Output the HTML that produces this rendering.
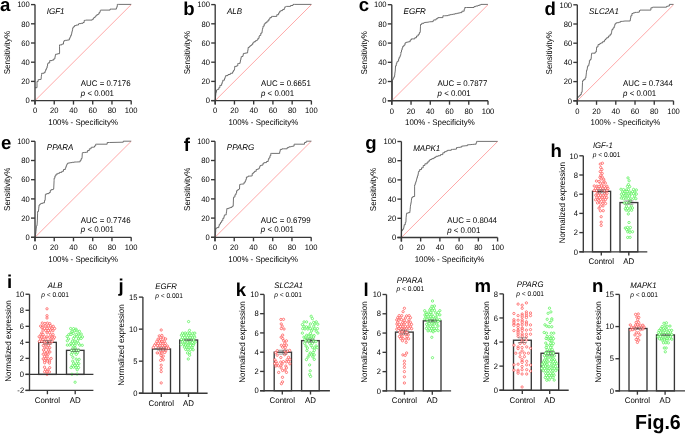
<!DOCTYPE html><html><head><meta charset="utf-8"><style>html,body{margin:0;padding:0;background:#fff;width:685px;height:434px;overflow:hidden}svg{display:block;will-change:transform}text{font-family:"Liberation Sans",sans-serif;text-rendering:geometricPrecision}</style></head><body>
<svg width="685" height="434" viewBox="0 0 685 434">
<rect width="685" height="434" fill="#fff"/>
<line x1="35.00" y1="100.60" x2="131.20" y2="4.60" stroke="#ff5050" stroke-width="0.5"/>
<polyline points="35.20,87.70 37.00,87.70 37.00,83.70 37.00,81.40 38.20,81.40 38.20,79.60 38.80,79.60 41.10,79.40 41.30,76.80 41.60,74.50 41.60,73.30 43.90,73.30 43.90,72.70 45.10,72.70 45.10,71.00 45.70,71.00 45.70,69.55 46.40,69.55 46.40,68.10 47.10,68.10 47.10,66.10 47.55,66.10 47.55,64.10 48.00,64.10 48.00,62.90 49.70,62.90 49.70,60.60 52.00,60.60 52.00,60.10 53.70,60.10 53.70,58.90 54.90,58.90 54.90,57.20 55.20,57.20 55.20,55.50 55.50,55.50 55.50,54.30 56.60,54.30 56.60,54.00 58.05,54.00 58.05,53.70 59.50,53.70 59.60,52.00 59.50,46.40 59.50,44.90 61.80,44.90 61.80,44.10 63.50,44.10 63.50,41.70 64.10,41.70 64.10,40.60 65.30,40.60 65.30,40.30 67.30,40.30 67.30,40.00 69.30,40.00 69.30,38.47 70.00,38.47 70.00,36.93 70.70,36.93 70.70,35.40 71.40,35.40 71.40,33.95 71.73,33.95 71.73,32.50 72.05,32.50 72.05,31.05 72.38,31.05 72.38,29.60 72.70,29.60 72.70,27.90 73.30,27.90 73.30,26.80 74.50,26.80 74.50,25.60 76.20,25.60 76.20,25.00 78.50,25.00 78.50,23.90 79.10,23.90 79.10,23.60 81.05,23.60 81.05,23.30 83.00,23.30 83.00,22.50 84.20,22.50 84.20,20.40 85.30,20.40 85.90,20.10 92.20,20.10 92.20,19.30 93.40,19.30 93.40,18.10 93.90,18.10 93.90,17.60 95.10,17.60 95.10,16.40 95.70,16.40 95.70,15.80 96.80,15.80 96.80,14.70 98.00,14.70 98.00,14.10 99.10,14.10 99.10,12.40 100.10,12.40 100.30,10.30 100.90,10.10 110.10,10.10 110.10,9.10 111.20,9.10 116.40,9.10 116.40,7.85 116.85,7.85 116.85,6.60 117.30,6.60 117.30,4.40 118.70,4.40 131.20,4.40" fill="none" stroke="#5a5a5a" stroke-width="0.85" stroke-linejoin="miter"/>
<line x1="35.00" y1="4.60" x2="35.00" y2="104.60" stroke="#383838" stroke-width="1.35"/>
<line x1="31.00" y1="100.60" x2="131.20" y2="100.60" stroke="#383838" stroke-width="1.35"/>
<line x1="31.00" y1="100.60" x2="35.00" y2="100.60" stroke="#383838" stroke-width="1.35"/>
<text font-size="7.92" text-anchor="end" fill="#000" transform="translate(29.80 103.30) scale(0.960 1)">0</text>
<line x1="35.00" y1="100.60" x2="35.00" y2="104.60" stroke="#383838" stroke-width="1.35"/>
<text font-size="7.92" text-anchor="middle" fill="#000" transform="translate(35.00 113.40) scale(0.960 1)">0</text>
<line x1="31.00" y1="81.40" x2="35.00" y2="81.40" stroke="#383838" stroke-width="1.35"/>
<text font-size="7.92" text-anchor="end" fill="#000" transform="translate(29.80 84.10) scale(0.960 1)">20</text>
<line x1="54.24" y1="100.60" x2="54.24" y2="104.60" stroke="#383838" stroke-width="1.35"/>
<text font-size="7.92" text-anchor="middle" fill="#000" transform="translate(54.24 113.40) scale(0.960 1)">20</text>
<line x1="31.00" y1="62.20" x2="35.00" y2="62.20" stroke="#383838" stroke-width="1.35"/>
<text font-size="7.92" text-anchor="end" fill="#000" transform="translate(29.80 64.90) scale(0.960 1)">40</text>
<line x1="73.48" y1="100.60" x2="73.48" y2="104.60" stroke="#383838" stroke-width="1.35"/>
<text font-size="7.92" text-anchor="middle" fill="#000" transform="translate(73.48 113.40) scale(0.960 1)">40</text>
<line x1="31.00" y1="43.00" x2="35.00" y2="43.00" stroke="#383838" stroke-width="1.35"/>
<text font-size="7.92" text-anchor="end" fill="#000" transform="translate(29.80 45.70) scale(0.960 1)">60</text>
<line x1="92.72" y1="100.60" x2="92.72" y2="104.60" stroke="#383838" stroke-width="1.35"/>
<text font-size="7.92" text-anchor="middle" fill="#000" transform="translate(92.72 113.40) scale(0.960 1)">60</text>
<line x1="31.00" y1="23.80" x2="35.00" y2="23.80" stroke="#383838" stroke-width="1.35"/>
<text font-size="7.92" text-anchor="end" fill="#000" transform="translate(29.80 26.50) scale(0.960 1)">80</text>
<line x1="111.96" y1="100.60" x2="111.96" y2="104.60" stroke="#383838" stroke-width="1.35"/>
<text font-size="7.92" text-anchor="middle" fill="#000" transform="translate(111.96 113.40) scale(0.960 1)">80</text>
<line x1="31.00" y1="4.60" x2="35.00" y2="4.60" stroke="#383838" stroke-width="1.35"/>
<text font-size="7.92" text-anchor="end" fill="#000" transform="translate(29.80 7.30) scale(0.960 1)">100</text>
<line x1="131.20" y1="100.60" x2="131.20" y2="104.60" stroke="#383838" stroke-width="1.35"/>
<text font-size="7.92" text-anchor="middle" fill="#000" transform="translate(131.20 113.40) scale(0.960 1)">100</text>
<text font-size="8.23" text-anchor="middle" fill="#000" transform="translate(83.10 125.10) scale(0.960 1)">100% - Specificity%</text>
<text font-size="8.39" text-anchor="middle" fill="#000" transform="translate(9.80 52.60) rotate(-90) scale(0.960 1)">Sensitivity%</text>
<text font-size="8.33" text-anchor="start" font-style="italic" fill="#000" transform="translate(46.80 13.50) scale(0.960 1)">IGF1</text>
<text font-size="8.23" text-anchor="start" fill="#000" transform="translate(80.80 86.20) scale(0.960 1)">AUC = 0.7176</text>
<text font-size="8.23" text-anchor="start" fill="#000" transform="translate(80.80 95.60) scale(0.960 1)"><tspan font-style="italic">p</tspan> &lt; 0.001</text>
<line x1="215.20" y1="100.60" x2="311.40" y2="4.60" stroke="#ff5050" stroke-width="0.5"/>
<polyline points="215.30,100.40 215.50,98.10 215.50,96.35 215.70,96.35 215.70,94.60 215.90,94.60 215.90,92.30 216.50,92.30 216.50,90.00 217.40,90.00 217.40,89.40 218.80,89.40 218.80,87.70 219.90,87.70 219.90,85.40 221.60,85.40 221.60,83.70 222.20,83.70 222.20,82.00 222.80,82.00 222.80,80.20 224.50,80.20 224.50,78.50 225.10,78.50 225.10,76.80 225.70,76.80 225.70,75.60 228.00,75.60 228.00,74.50 230.30,74.50 230.30,73.30 232.60,73.30 232.60,71.85 233.45,71.85 233.45,70.40 234.30,70.40 234.70,68.10 234.70,66.40 236.60,66.40 236.60,65.80 237.80,65.80 237.80,63.50 238.30,63.50 240.10,63.30 240.10,61.63 240.47,61.63 240.47,59.97 240.83,59.97 240.83,58.30 241.20,58.30 241.20,56.60 241.60,56.60 243.00,56.40 243.00,55.05 243.25,55.05 243.25,53.70 243.50,53.70 243.50,53.43 244.87,53.43 244.87,53.17 246.23,53.17 246.23,52.90 247.60,52.90 247.60,51.35 247.85,51.35 247.85,49.80 248.10,49.80 248.10,47.50 249.30,47.50 249.30,46.40 250.40,46.40 250.40,45.50 251.60,45.50 251.60,44.60 252.70,44.60 252.70,42.90 253.90,42.90 253.90,41.70 255.60,41.70 255.60,40.60 256.80,40.60 256.80,40.00 257.90,40.00 257.90,38.30 259.10,38.30 259.10,36.00 259.70,36.00 259.70,35.40 260.80,35.40 260.80,33.10 262.00,33.10 262.00,31.35 262.25,31.35 262.25,29.60 262.50,29.60 262.50,28.50 263.00,28.50 263.00,26.20 264.20,26.20 264.20,23.90 265.30,23.90 265.30,22.70 267.00,22.70 267.00,21.00 268.80,21.00 268.80,19.10 269.90,19.10 269.90,17.60 271.60,17.60 271.60,16.40 272.80,16.40 276.80,16.40 276.80,14.70 278.60,14.70 278.60,12.90 279.70,12.90 279.70,11.20 280.90,11.20 280.90,10.60 282.60,10.60 282.60,9.50 284.30,9.50 284.30,8.15 284.90,8.15 284.90,6.80 285.50,6.80 286.60,6.40 290.60,6.40 290.60,5.50 293.00,5.50 293.00,4.40 294.70,4.40 311.40,4.40" fill="none" stroke="#5a5a5a" stroke-width="0.85" stroke-linejoin="miter"/>
<line x1="215.20" y1="4.60" x2="215.20" y2="104.60" stroke="#383838" stroke-width="1.35"/>
<line x1="211.20" y1="100.60" x2="311.40" y2="100.60" stroke="#383838" stroke-width="1.35"/>
<line x1="211.20" y1="100.60" x2="215.20" y2="100.60" stroke="#383838" stroke-width="1.35"/>
<text font-size="7.92" text-anchor="end" fill="#000" transform="translate(210.00 103.30) scale(0.960 1)">0</text>
<line x1="215.20" y1="100.60" x2="215.20" y2="104.60" stroke="#383838" stroke-width="1.35"/>
<text font-size="7.92" text-anchor="middle" fill="#000" transform="translate(215.20 113.40) scale(0.960 1)">0</text>
<line x1="211.20" y1="81.40" x2="215.20" y2="81.40" stroke="#383838" stroke-width="1.35"/>
<text font-size="7.92" text-anchor="end" fill="#000" transform="translate(210.00 84.10) scale(0.960 1)">20</text>
<line x1="234.44" y1="100.60" x2="234.44" y2="104.60" stroke="#383838" stroke-width="1.35"/>
<text font-size="7.92" text-anchor="middle" fill="#000" transform="translate(234.44 113.40) scale(0.960 1)">20</text>
<line x1="211.20" y1="62.20" x2="215.20" y2="62.20" stroke="#383838" stroke-width="1.35"/>
<text font-size="7.92" text-anchor="end" fill="#000" transform="translate(210.00 64.90) scale(0.960 1)">40</text>
<line x1="253.68" y1="100.60" x2="253.68" y2="104.60" stroke="#383838" stroke-width="1.35"/>
<text font-size="7.92" text-anchor="middle" fill="#000" transform="translate(253.68 113.40) scale(0.960 1)">40</text>
<line x1="211.20" y1="43.00" x2="215.20" y2="43.00" stroke="#383838" stroke-width="1.35"/>
<text font-size="7.92" text-anchor="end" fill="#000" transform="translate(210.00 45.70) scale(0.960 1)">60</text>
<line x1="272.92" y1="100.60" x2="272.92" y2="104.60" stroke="#383838" stroke-width="1.35"/>
<text font-size="7.92" text-anchor="middle" fill="#000" transform="translate(272.92 113.40) scale(0.960 1)">60</text>
<line x1="211.20" y1="23.80" x2="215.20" y2="23.80" stroke="#383838" stroke-width="1.35"/>
<text font-size="7.92" text-anchor="end" fill="#000" transform="translate(210.00 26.50) scale(0.960 1)">80</text>
<line x1="292.16" y1="100.60" x2="292.16" y2="104.60" stroke="#383838" stroke-width="1.35"/>
<text font-size="7.92" text-anchor="middle" fill="#000" transform="translate(292.16 113.40) scale(0.960 1)">80</text>
<line x1="211.20" y1="4.60" x2="215.20" y2="4.60" stroke="#383838" stroke-width="1.35"/>
<text font-size="7.92" text-anchor="end" fill="#000" transform="translate(210.00 7.30) scale(0.960 1)">100</text>
<line x1="311.40" y1="100.60" x2="311.40" y2="104.60" stroke="#383838" stroke-width="1.35"/>
<text font-size="7.92" text-anchor="middle" fill="#000" transform="translate(311.40 113.40) scale(0.960 1)">100</text>
<text font-size="8.23" text-anchor="middle" fill="#000" transform="translate(263.30 125.10) scale(0.960 1)">100% - Specificity%</text>
<text font-size="8.39" text-anchor="middle" fill="#000" transform="translate(190.00 52.60) rotate(-90) scale(0.960 1)">Sensitivity%</text>
<text font-size="8.33" text-anchor="start" font-style="italic" fill="#000" transform="translate(227.00 13.50) scale(0.960 1)">ALB</text>
<text font-size="8.23" text-anchor="start" fill="#000" transform="translate(261.00 86.20) scale(0.960 1)">AUC = 0.6651</text>
<text font-size="8.23" text-anchor="start" fill="#000" transform="translate(261.00 95.60) scale(0.960 1)"><tspan font-style="italic">p</tspan> &lt; 0.001</text>
<line x1="391.80" y1="100.70" x2="488.00" y2="4.70" stroke="#ff5050" stroke-width="0.5"/>
<polyline points="392.30,100.40 392.30,99.80 392.50,80.20 392.50,79.60 393.20,79.60 393.20,78.20 393.90,78.20 393.90,76.80 394.60,76.80 394.60,75.07 394.80,75.07 394.80,73.33 395.00,73.33 395.00,71.60 395.20,71.60 395.50,67.00 395.50,65.80 396.30,65.80 396.30,63.50 396.90,63.50 396.90,61.80 397.50,61.80 397.50,61.20 398.60,61.20 398.60,58.90 399.20,58.90 399.20,57.20 400.10,57.20 400.10,55.50 400.60,55.50 400.90,53.70 400.90,52.00 401.50,52.00 401.50,50.05 402.10,50.05 402.10,48.10 402.70,48.10 402.70,46.40 403.80,46.40 403.80,45.20 405.00,45.20 405.00,42.90 406.10,42.90 406.10,42.30 407.30,42.30 407.30,42.00 408.75,42.00 408.75,41.70 410.20,41.70 410.20,40.00 411.30,40.00 411.30,38.90 413.00,38.90 414.80,38.90 414.80,37.70 416.50,37.70 416.50,36.00 418.20,36.00 418.20,34.30 419.40,34.30 419.40,32.50 420.20,32.50 420.50,26.20 420.50,24.50 421.70,24.50 421.70,23.30 424.00,23.30 424.00,22.50 424.60,22.50 428.00,22.20 429.70,21.80 433.20,21.60 433.20,20.40 433.80,20.40 433.80,19.90 436.10,19.90 436.10,18.70 437.80,18.70 437.80,17.60 440.00,17.60 442.90,17.60 442.90,15.80 444.60,15.80 448.10,15.60 448.10,15.15 449.80,15.15 449.80,14.70 451.50,14.70 451.50,14.40 453.25,14.40 453.25,14.10 455.00,14.10 455.00,13.70 456.70,13.70 456.70,13.30 458.40,13.30 458.40,12.95 460.15,12.95 460.15,12.60 461.90,12.60 461.90,11.20 464.20,11.20 464.20,9.10 464.80,9.10 464.80,7.50 466.50,7.50 474.00,7.50 474.00,6.60 475.70,6.60 475.70,6.00 478.00,6.00 478.00,5.45 479.45,5.45 479.45,4.90 480.90,4.90 480.90,4.40 482.00,4.40 487.90,4.40" fill="none" stroke="#5a5a5a" stroke-width="0.85" stroke-linejoin="miter"/>
<line x1="391.80" y1="4.70" x2="391.80" y2="104.70" stroke="#383838" stroke-width="1.35"/>
<line x1="387.80" y1="100.70" x2="488.00" y2="100.70" stroke="#383838" stroke-width="1.35"/>
<line x1="387.80" y1="100.70" x2="391.80" y2="100.70" stroke="#383838" stroke-width="1.35"/>
<text font-size="7.92" text-anchor="end" fill="#000" transform="translate(386.60 103.40) scale(0.960 1)">0</text>
<line x1="391.80" y1="100.70" x2="391.80" y2="104.70" stroke="#383838" stroke-width="1.35"/>
<text font-size="7.92" text-anchor="middle" fill="#000" transform="translate(391.80 113.50) scale(0.960 1)">0</text>
<line x1="387.80" y1="81.50" x2="391.80" y2="81.50" stroke="#383838" stroke-width="1.35"/>
<text font-size="7.92" text-anchor="end" fill="#000" transform="translate(386.60 84.20) scale(0.960 1)">20</text>
<line x1="411.04" y1="100.70" x2="411.04" y2="104.70" stroke="#383838" stroke-width="1.35"/>
<text font-size="7.92" text-anchor="middle" fill="#000" transform="translate(411.04 113.50) scale(0.960 1)">20</text>
<line x1="387.80" y1="62.30" x2="391.80" y2="62.30" stroke="#383838" stroke-width="1.35"/>
<text font-size="7.92" text-anchor="end" fill="#000" transform="translate(386.60 65.00) scale(0.960 1)">40</text>
<line x1="430.28" y1="100.70" x2="430.28" y2="104.70" stroke="#383838" stroke-width="1.35"/>
<text font-size="7.92" text-anchor="middle" fill="#000" transform="translate(430.28 113.50) scale(0.960 1)">40</text>
<line x1="387.80" y1="43.10" x2="391.80" y2="43.10" stroke="#383838" stroke-width="1.35"/>
<text font-size="7.92" text-anchor="end" fill="#000" transform="translate(386.60 45.80) scale(0.960 1)">60</text>
<line x1="449.52" y1="100.70" x2="449.52" y2="104.70" stroke="#383838" stroke-width="1.35"/>
<text font-size="7.92" text-anchor="middle" fill="#000" transform="translate(449.52 113.50) scale(0.960 1)">60</text>
<line x1="387.80" y1="23.90" x2="391.80" y2="23.90" stroke="#383838" stroke-width="1.35"/>
<text font-size="7.92" text-anchor="end" fill="#000" transform="translate(386.60 26.60) scale(0.960 1)">80</text>
<line x1="468.76" y1="100.70" x2="468.76" y2="104.70" stroke="#383838" stroke-width="1.35"/>
<text font-size="7.92" text-anchor="middle" fill="#000" transform="translate(468.76 113.50) scale(0.960 1)">80</text>
<line x1="387.80" y1="4.70" x2="391.80" y2="4.70" stroke="#383838" stroke-width="1.35"/>
<text font-size="7.92" text-anchor="end" fill="#000" transform="translate(386.60 7.40) scale(0.960 1)">100</text>
<line x1="488.00" y1="100.70" x2="488.00" y2="104.70" stroke="#383838" stroke-width="1.35"/>
<text font-size="7.92" text-anchor="middle" fill="#000" transform="translate(488.00 113.50) scale(0.960 1)">100</text>
<text font-size="8.23" text-anchor="middle" fill="#000" transform="translate(439.90 125.20) scale(0.960 1)">100% - Specificity%</text>
<text font-size="8.39" text-anchor="middle" fill="#000" transform="translate(366.60 52.70) rotate(-90) scale(0.960 1)">Sensitivity%</text>
<text font-size="8.33" text-anchor="start" font-style="italic" fill="#000" transform="translate(403.60 13.60) scale(0.960 1)">EGFR</text>
<text font-size="8.23" text-anchor="start" fill="#000" transform="translate(437.60 86.30) scale(0.960 1)">AUC = 0.7877</text>
<text font-size="8.23" text-anchor="start" fill="#000" transform="translate(437.60 95.70) scale(0.960 1)"><tspan font-style="italic">p</tspan> &lt; 0.001</text>
<line x1="577.30" y1="100.80" x2="673.50" y2="4.80" stroke="#ff5050" stroke-width="0.5"/>
<polyline points="577.30,100.40 577.30,98.10 577.90,98.10 577.90,96.90 579.00,96.90 579.00,95.80 580.20,95.80 580.20,94.60 581.30,94.60 581.30,92.30 582.10,92.30 582.50,82.50 582.50,80.80 583.60,80.80 583.60,79.60 585.10,79.60 585.10,77.90 585.90,77.90 585.90,76.17 586.10,76.17 586.10,74.43 586.30,74.43 586.30,72.70 586.50,72.70 586.50,70.40 587.10,70.40 587.10,68.70 587.40,68.70 587.40,67.00 587.70,67.00 587.70,65.80 588.80,65.80 588.80,64.35 589.10,64.35 589.10,62.90 589.40,62.90 589.40,60.60 590.20,60.60 590.20,59.50 591.10,59.50 591.10,58.05 591.25,58.05 591.25,56.60 591.40,56.60 591.40,55.15 591.55,55.15 591.55,53.70 591.70,53.70 591.70,53.20 592.30,53.20 595.20,53.20 595.20,52.00 596.30,52.00 596.30,50.05 596.50,50.05 596.50,48.10 596.70,48.10 596.70,46.90 598.00,46.90 598.00,44.60 599.80,44.60 599.80,43.50 600.90,43.50 600.90,42.90 602.60,42.90 602.60,41.70 604.40,41.70 604.40,40.00 605.50,40.00 605.50,38.90 606.70,38.90 606.70,37.70 608.40,37.70 608.40,36.00 610.10,36.00 610.10,34.30 611.30,34.30 611.30,32.85 611.60,32.85 611.60,31.40 611.90,31.40 611.90,29.60 613.00,29.60 613.00,27.90 614.20,27.90 614.20,26.20 614.75,26.20 614.75,24.50 615.30,24.50 615.30,23.30 616.50,23.30 616.50,22.70 618.80,22.70 618.80,22.20 620.50,22.20 620.50,21.40 622.20,21.40 625.00,21.00 630.20,21.00 630.20,19.55 630.50,19.55 630.50,18.10 630.80,18.10 630.80,15.80 631.90,15.80 631.90,13.50 633.10,13.50 633.10,12.90 634.80,12.90 634.80,12.40 636.50,12.40 639.40,12.10 639.40,10.60 640.00,10.60 640.00,10.10 641.10,10.10 650.90,10.10 650.90,7.80 652.60,7.80 652.60,7.20 653.80,7.20 666.50,7.20 666.50,6.40 667.60,6.40 667.60,6.00 669.40,6.00 669.40,4.40 669.90,4.40 673.50,4.40" fill="none" stroke="#5a5a5a" stroke-width="0.85" stroke-linejoin="miter"/>
<line x1="577.30" y1="4.80" x2="577.30" y2="104.80" stroke="#383838" stroke-width="1.35"/>
<line x1="573.30" y1="100.80" x2="673.50" y2="100.80" stroke="#383838" stroke-width="1.35"/>
<line x1="573.30" y1="100.80" x2="577.30" y2="100.80" stroke="#383838" stroke-width="1.35"/>
<text font-size="7.92" text-anchor="end" fill="#000" transform="translate(572.10 103.50) scale(0.960 1)">0</text>
<line x1="577.30" y1="100.80" x2="577.30" y2="104.80" stroke="#383838" stroke-width="1.35"/>
<text font-size="7.92" text-anchor="middle" fill="#000" transform="translate(577.30 113.60) scale(0.960 1)">0</text>
<line x1="573.30" y1="81.60" x2="577.30" y2="81.60" stroke="#383838" stroke-width="1.35"/>
<text font-size="7.92" text-anchor="end" fill="#000" transform="translate(572.10 84.30) scale(0.960 1)">20</text>
<line x1="596.54" y1="100.80" x2="596.54" y2="104.80" stroke="#383838" stroke-width="1.35"/>
<text font-size="7.92" text-anchor="middle" fill="#000" transform="translate(596.54 113.60) scale(0.960 1)">20</text>
<line x1="573.30" y1="62.40" x2="577.30" y2="62.40" stroke="#383838" stroke-width="1.35"/>
<text font-size="7.92" text-anchor="end" fill="#000" transform="translate(572.10 65.10) scale(0.960 1)">40</text>
<line x1="615.78" y1="100.80" x2="615.78" y2="104.80" stroke="#383838" stroke-width="1.35"/>
<text font-size="7.92" text-anchor="middle" fill="#000" transform="translate(615.78 113.60) scale(0.960 1)">40</text>
<line x1="573.30" y1="43.20" x2="577.30" y2="43.20" stroke="#383838" stroke-width="1.35"/>
<text font-size="7.92" text-anchor="end" fill="#000" transform="translate(572.10 45.90) scale(0.960 1)">60</text>
<line x1="635.02" y1="100.80" x2="635.02" y2="104.80" stroke="#383838" stroke-width="1.35"/>
<text font-size="7.92" text-anchor="middle" fill="#000" transform="translate(635.02 113.60) scale(0.960 1)">60</text>
<line x1="573.30" y1="24.00" x2="577.30" y2="24.00" stroke="#383838" stroke-width="1.35"/>
<text font-size="7.92" text-anchor="end" fill="#000" transform="translate(572.10 26.70) scale(0.960 1)">80</text>
<line x1="654.26" y1="100.80" x2="654.26" y2="104.80" stroke="#383838" stroke-width="1.35"/>
<text font-size="7.92" text-anchor="middle" fill="#000" transform="translate(654.26 113.60) scale(0.960 1)">80</text>
<line x1="573.30" y1="4.80" x2="577.30" y2="4.80" stroke="#383838" stroke-width="1.35"/>
<text font-size="7.92" text-anchor="end" fill="#000" transform="translate(572.10 7.50) scale(0.960 1)">100</text>
<line x1="673.50" y1="100.80" x2="673.50" y2="104.80" stroke="#383838" stroke-width="1.35"/>
<text font-size="7.92" text-anchor="middle" fill="#000" transform="translate(673.50 113.60) scale(0.960 1)">100</text>
<text font-size="8.23" text-anchor="middle" fill="#000" transform="translate(625.40 125.30) scale(0.960 1)">100% - Specificity%</text>
<text font-size="8.39" text-anchor="middle" fill="#000" transform="translate(552.10 52.80) rotate(-90) scale(0.960 1)">Sensitivity%</text>
<text font-size="8.33" text-anchor="start" font-style="italic" fill="#000" transform="translate(589.10 13.70) scale(0.960 1)">SLC2A1</text>
<text font-size="8.23" text-anchor="start" fill="#000" transform="translate(623.10 86.40) scale(0.960 1)">AUC = 0.7344</text>
<text font-size="8.23" text-anchor="start" fill="#000" transform="translate(623.10 95.80) scale(0.960 1)"><tspan font-style="italic">p</tspan> &lt; 0.001</text>
<line x1="35.00" y1="237.30" x2="131.20" y2="141.30" stroke="#ff5050" stroke-width="0.5"/>
<polyline points="35.30,237.20 35.30,235.73 35.50,235.73 35.50,234.27 35.70,234.27 35.70,232.80 35.90,232.80 35.90,231.20 36.05,231.20 36.05,229.60 36.20,229.60 36.20,228.00 36.35,228.00 36.35,226.40 36.50,226.40 36.50,225.90 37.00,225.90 37.40,220.10 37.60,213.20 37.60,211.50 38.50,211.50 38.50,209.97 38.67,209.97 38.67,208.43 38.83,208.43 38.83,206.90 39.00,206.90 39.00,205.10 39.90,205.10 39.90,204.00 41.10,204.00 41.10,203.40 42.80,203.40 42.80,202.80 44.50,202.80 44.50,200.50 45.10,200.50 45.40,194.80 45.40,194.20 46.80,194.20 46.80,193.60 49.10,193.60 49.10,192.50 50.30,192.50 50.30,190.40 51.20,190.40 51.20,189.60 53.20,189.60 53.20,189.00 53.70,189.00 54.10,180.50 54.10,178.20 54.90,178.20 54.90,175.90 56.00,175.90 56.00,174.10 57.80,174.10 57.80,173.30 59.50,173.30 59.50,172.40 61.80,172.40 61.80,171.30 63.50,171.30 63.50,169.50 65.30,169.50 65.30,168.05 65.85,168.05 65.85,166.60 66.40,166.60 66.40,165.20 67.00,165.20 67.00,163.80 67.60,163.80 67.60,163.20 68.70,163.20 68.70,162.90 70.45,162.90 70.45,162.60 72.20,162.60 72.20,162.30 74.20,162.30 74.20,162.00 76.20,162.00 80.20,161.80 80.20,160.30 81.20,160.30 81.20,158.60 82.00,158.60 82.30,153.40 82.30,152.80 83.00,152.80 83.00,152.60 84.53,152.60 84.53,152.40 86.07,152.40 86.07,152.20 87.60,152.20 87.60,150.50 89.30,150.50 89.30,148.80 91.10,148.80 91.10,147.30 91.60,147.30 94.50,147.10 94.50,145.90 95.70,145.90 95.70,144.20 96.60,144.20 107.20,144.20 107.20,142.50 109.50,142.50 123.30,142.20 123.30,141.20 123.90,141.20 131.20,141.20" fill="none" stroke="#5a5a5a" stroke-width="0.85" stroke-linejoin="miter"/>
<line x1="35.00" y1="141.30" x2="35.00" y2="241.30" stroke="#383838" stroke-width="1.35"/>
<line x1="31.00" y1="237.30" x2="131.20" y2="237.30" stroke="#383838" stroke-width="1.35"/>
<line x1="31.00" y1="237.30" x2="35.00" y2="237.30" stroke="#383838" stroke-width="1.35"/>
<text font-size="7.92" text-anchor="end" fill="#000" transform="translate(29.80 240.00) scale(0.960 1)">0</text>
<line x1="35.00" y1="237.30" x2="35.00" y2="241.30" stroke="#383838" stroke-width="1.35"/>
<text font-size="7.92" text-anchor="middle" fill="#000" transform="translate(35.00 250.10) scale(0.960 1)">0</text>
<line x1="31.00" y1="218.10" x2="35.00" y2="218.10" stroke="#383838" stroke-width="1.35"/>
<text font-size="7.92" text-anchor="end" fill="#000" transform="translate(29.80 220.80) scale(0.960 1)">20</text>
<line x1="54.24" y1="237.30" x2="54.24" y2="241.30" stroke="#383838" stroke-width="1.35"/>
<text font-size="7.92" text-anchor="middle" fill="#000" transform="translate(54.24 250.10) scale(0.960 1)">20</text>
<line x1="31.00" y1="198.90" x2="35.00" y2="198.90" stroke="#383838" stroke-width="1.35"/>
<text font-size="7.92" text-anchor="end" fill="#000" transform="translate(29.80 201.60) scale(0.960 1)">40</text>
<line x1="73.48" y1="237.30" x2="73.48" y2="241.30" stroke="#383838" stroke-width="1.35"/>
<text font-size="7.92" text-anchor="middle" fill="#000" transform="translate(73.48 250.10) scale(0.960 1)">40</text>
<line x1="31.00" y1="179.70" x2="35.00" y2="179.70" stroke="#383838" stroke-width="1.35"/>
<text font-size="7.92" text-anchor="end" fill="#000" transform="translate(29.80 182.40) scale(0.960 1)">60</text>
<line x1="92.72" y1="237.30" x2="92.72" y2="241.30" stroke="#383838" stroke-width="1.35"/>
<text font-size="7.92" text-anchor="middle" fill="#000" transform="translate(92.72 250.10) scale(0.960 1)">60</text>
<line x1="31.00" y1="160.50" x2="35.00" y2="160.50" stroke="#383838" stroke-width="1.35"/>
<text font-size="7.92" text-anchor="end" fill="#000" transform="translate(29.80 163.20) scale(0.960 1)">80</text>
<line x1="111.96" y1="237.30" x2="111.96" y2="241.30" stroke="#383838" stroke-width="1.35"/>
<text font-size="7.92" text-anchor="middle" fill="#000" transform="translate(111.96 250.10) scale(0.960 1)">80</text>
<line x1="31.00" y1="141.30" x2="35.00" y2="141.30" stroke="#383838" stroke-width="1.35"/>
<text font-size="7.92" text-anchor="end" fill="#000" transform="translate(29.80 144.00) scale(0.960 1)">100</text>
<line x1="131.20" y1="237.30" x2="131.20" y2="241.30" stroke="#383838" stroke-width="1.35"/>
<text font-size="7.92" text-anchor="middle" fill="#000" transform="translate(131.20 250.10) scale(0.960 1)">100</text>
<text font-size="8.23" text-anchor="middle" fill="#000" transform="translate(83.10 261.80) scale(0.960 1)">100% - Specificity%</text>
<text font-size="8.39" text-anchor="middle" fill="#000" transform="translate(9.80 189.30) rotate(-90) scale(0.960 1)">Sensitivity%</text>
<text font-size="8.33" text-anchor="start" font-style="italic" fill="#000" transform="translate(46.80 150.20) scale(0.960 1)">PPARA</text>
<text font-size="8.23" text-anchor="start" fill="#000" transform="translate(80.80 222.90) scale(0.960 1)">AUC = 0.7746</text>
<text font-size="8.23" text-anchor="start" fill="#000" transform="translate(80.80 232.30) scale(0.960 1)"><tspan font-style="italic">p</tspan> &lt; 0.001</text>
<line x1="215.00" y1="237.30" x2="311.20" y2="141.30" stroke="#ff5050" stroke-width="0.5"/>
<polyline points="215.30,237.20 215.30,235.50 215.42,235.50 215.42,233.80 215.54,233.80 215.54,232.10 215.66,232.10 215.66,230.40 215.78,230.40 215.78,228.70 215.90,228.70 215.90,228.20 217.00,228.20 217.00,227.60 218.80,227.60 218.80,225.90 219.30,225.90 219.30,224.10 220.50,224.10 220.50,222.40 221.60,222.40 221.60,220.70 222.80,220.70 222.80,218.40 223.90,218.40 223.90,216.95 224.20,216.95 224.20,215.50 224.50,215.50 224.50,214.90 226.20,214.90 226.20,213.37 226.40,213.37 226.40,211.83 226.60,211.83 226.60,210.30 226.80,210.30 226.80,208.60 228.60,208.60 228.60,208.00 230.30,208.00 230.30,207.40 232.00,207.40 232.00,206.30 233.20,206.30 233.50,197.60 233.50,197.10 234.90,197.10 234.90,194.80 236.00,194.80 236.00,193.00 236.60,193.00 236.60,190.70 237.80,190.70 237.80,189.60 238.90,189.60 238.90,189.00 239.50,189.00 239.70,184.50 241.20,184.20 244.10,183.90 244.10,182.20 245.30,182.20 245.30,180.75 245.85,180.75 245.85,179.30 246.40,179.30 246.40,177.00 248.10,177.00 248.10,176.10 249.90,176.10 252.20,175.90 252.20,173.60 253.30,173.60 253.30,172.40 254.50,172.40 254.50,171.30 256.20,171.30 256.20,169.50 257.40,169.50 257.40,169.00 259.10,169.00 259.10,167.80 259.65,167.80 259.65,166.60 260.20,166.60 260.20,165.50 261.40,165.50 261.40,165.10 263.00,165.10 263.00,163.20 264.20,163.20 264.20,162.60 266.50,162.60 266.50,161.50 268.20,161.50 268.20,159.70 268.80,159.70 268.80,158.00 269.90,158.00 269.90,155.70 270.80,155.70 270.80,153.40 271.30,153.40 279.70,153.40 279.70,151.95 280.00,151.95 280.00,150.50 280.30,150.50 280.30,149.40 282.00,149.40 282.00,148.80 283.70,148.80 287.20,148.80 287.20,147.60 288.90,147.60 288.90,146.80 291.20,146.80 291.20,146.45 292.65,146.45 292.65,146.10 294.10,146.10 294.10,144.20 294.70,144.20 304.50,144.20 304.50,142.50 306.20,142.50 306.20,141.20 306.80,141.20 311.40,141.20" fill="none" stroke="#5a5a5a" stroke-width="0.85" stroke-linejoin="miter"/>
<line x1="215.00" y1="141.30" x2="215.00" y2="241.30" stroke="#383838" stroke-width="1.35"/>
<line x1="211.00" y1="237.30" x2="311.20" y2="237.30" stroke="#383838" stroke-width="1.35"/>
<line x1="211.00" y1="237.30" x2="215.00" y2="237.30" stroke="#383838" stroke-width="1.35"/>
<text font-size="7.92" text-anchor="end" fill="#000" transform="translate(209.80 240.00) scale(0.960 1)">0</text>
<line x1="215.00" y1="237.30" x2="215.00" y2="241.30" stroke="#383838" stroke-width="1.35"/>
<text font-size="7.92" text-anchor="middle" fill="#000" transform="translate(215.00 250.10) scale(0.960 1)">0</text>
<line x1="211.00" y1="218.10" x2="215.00" y2="218.10" stroke="#383838" stroke-width="1.35"/>
<text font-size="7.92" text-anchor="end" fill="#000" transform="translate(209.80 220.80) scale(0.960 1)">20</text>
<line x1="234.24" y1="237.30" x2="234.24" y2="241.30" stroke="#383838" stroke-width="1.35"/>
<text font-size="7.92" text-anchor="middle" fill="#000" transform="translate(234.24 250.10) scale(0.960 1)">20</text>
<line x1="211.00" y1="198.90" x2="215.00" y2="198.90" stroke="#383838" stroke-width="1.35"/>
<text font-size="7.92" text-anchor="end" fill="#000" transform="translate(209.80 201.60) scale(0.960 1)">40</text>
<line x1="253.48" y1="237.30" x2="253.48" y2="241.30" stroke="#383838" stroke-width="1.35"/>
<text font-size="7.92" text-anchor="middle" fill="#000" transform="translate(253.48 250.10) scale(0.960 1)">40</text>
<line x1="211.00" y1="179.70" x2="215.00" y2="179.70" stroke="#383838" stroke-width="1.35"/>
<text font-size="7.92" text-anchor="end" fill="#000" transform="translate(209.80 182.40) scale(0.960 1)">60</text>
<line x1="272.72" y1="237.30" x2="272.72" y2="241.30" stroke="#383838" stroke-width="1.35"/>
<text font-size="7.92" text-anchor="middle" fill="#000" transform="translate(272.72 250.10) scale(0.960 1)">60</text>
<line x1="211.00" y1="160.50" x2="215.00" y2="160.50" stroke="#383838" stroke-width="1.35"/>
<text font-size="7.92" text-anchor="end" fill="#000" transform="translate(209.80 163.20) scale(0.960 1)">80</text>
<line x1="291.96" y1="237.30" x2="291.96" y2="241.30" stroke="#383838" stroke-width="1.35"/>
<text font-size="7.92" text-anchor="middle" fill="#000" transform="translate(291.96 250.10) scale(0.960 1)">80</text>
<line x1="211.00" y1="141.30" x2="215.00" y2="141.30" stroke="#383838" stroke-width="1.35"/>
<text font-size="7.92" text-anchor="end" fill="#000" transform="translate(209.80 144.00) scale(0.960 1)">100</text>
<line x1="311.20" y1="237.30" x2="311.20" y2="241.30" stroke="#383838" stroke-width="1.35"/>
<text font-size="7.92" text-anchor="middle" fill="#000" transform="translate(311.20 250.10) scale(0.960 1)">100</text>
<text font-size="8.23" text-anchor="middle" fill="#000" transform="translate(263.10 261.80) scale(0.960 1)">100% - Specificity%</text>
<text font-size="8.39" text-anchor="middle" fill="#000" transform="translate(189.80 189.30) rotate(-90) scale(0.960 1)">Sensitivity%</text>
<text font-size="8.33" text-anchor="start" font-style="italic" fill="#000" transform="translate(226.80 150.20) scale(0.960 1)">PPARG</text>
<text font-size="8.23" text-anchor="start" fill="#000" transform="translate(260.80 222.90) scale(0.960 1)">AUC = 0.6799</text>
<text font-size="8.23" text-anchor="start" fill="#000" transform="translate(260.80 232.30) scale(0.960 1)"><tspan font-style="italic">p</tspan> &lt; 0.001</text>
<line x1="401.40" y1="237.50" x2="497.60" y2="141.50" stroke="#ff5050" stroke-width="0.5"/>
<polyline points="401.30,237.30 401.50,231.60 401.50,230.70 402.50,230.70 402.50,229.30 403.60,229.30 403.60,227.85 403.90,227.85 403.90,226.40 404.20,226.40 404.20,224.70 405.30,224.70 405.30,222.40 405.90,222.40 406.10,217.80 406.50,213.80 406.50,213.20 408.20,213.20 408.20,212.60 409.90,212.60 409.90,211.03 410.05,211.03 410.05,209.45 410.20,209.45 410.20,207.88 410.35,207.88 410.35,206.30 410.50,206.30 410.50,204.85 410.80,204.85 410.80,203.40 411.10,203.40 411.10,201.87 411.30,201.87 411.30,200.33 411.50,200.33 411.50,198.80 411.70,198.80 411.70,197.60 412.80,197.60 412.80,196.50 414.60,196.50 414.60,189.00 414.60,186.80 414.60,185.10 415.15,185.10 415.15,183.40 415.70,183.40 415.70,182.03 416.10,182.03 416.10,180.67 416.50,180.67 416.50,179.30 416.90,179.30 416.90,177.60 417.45,177.60 417.45,175.90 418.00,175.90 418.00,174.15 418.30,174.15 418.30,172.40 418.60,172.40 418.60,171.30 419.70,171.30 419.70,169.50 421.50,169.50 421.50,167.80 423.20,167.80 423.20,165.50 424.90,165.50 424.90,163.80 427.20,163.80 427.20,162.00 429.00,162.00 429.00,160.30 430.10,160.30 430.10,159.50 431.80,159.50 431.80,158.60 434.10,158.60 434.10,157.40 435.90,157.40 435.90,156.30 438.20,156.30 438.20,155.70 440.50,155.70 440.50,154.60 442.80,154.60 442.80,152.80 444.50,152.80 444.50,151.70 446.20,151.70 446.20,151.00 447.60,151.00 447.60,150.30 449.00,150.30 451.30,150.30 451.30,149.40 452.50,149.40 456.50,149.10 456.50,147.60 458.20,147.60 458.20,147.35 459.95,147.35 459.95,147.10 461.70,147.10 461.70,146.10 463.40,146.10 463.40,145.90 465.40,145.90 465.40,145.70 467.40,145.70 467.40,144.80 469.20,144.80 469.20,144.65 470.93,144.65 470.93,144.50 472.65,144.50 472.65,144.35 474.38,144.35 474.38,144.20 476.10,144.20 476.10,142.80 476.65,142.80 476.65,141.40 477.20,141.40 497.60,141.40" fill="none" stroke="#5a5a5a" stroke-width="0.85" stroke-linejoin="miter"/>
<line x1="401.40" y1="141.50" x2="401.40" y2="241.50" stroke="#383838" stroke-width="1.35"/>
<line x1="397.40" y1="237.50" x2="497.60" y2="237.50" stroke="#383838" stroke-width="1.35"/>
<line x1="397.40" y1="237.50" x2="401.40" y2="237.50" stroke="#383838" stroke-width="1.35"/>
<text font-size="7.92" text-anchor="end" fill="#000" transform="translate(396.20 240.20) scale(0.960 1)">0</text>
<line x1="401.40" y1="237.50" x2="401.40" y2="241.50" stroke="#383838" stroke-width="1.35"/>
<text font-size="7.92" text-anchor="middle" fill="#000" transform="translate(401.40 250.30) scale(0.960 1)">0</text>
<line x1="397.40" y1="218.30" x2="401.40" y2="218.30" stroke="#383838" stroke-width="1.35"/>
<text font-size="7.92" text-anchor="end" fill="#000" transform="translate(396.20 221.00) scale(0.960 1)">20</text>
<line x1="420.64" y1="237.50" x2="420.64" y2="241.50" stroke="#383838" stroke-width="1.35"/>
<text font-size="7.92" text-anchor="middle" fill="#000" transform="translate(420.64 250.30) scale(0.960 1)">20</text>
<line x1="397.40" y1="199.10" x2="401.40" y2="199.10" stroke="#383838" stroke-width="1.35"/>
<text font-size="7.92" text-anchor="end" fill="#000" transform="translate(396.20 201.80) scale(0.960 1)">40</text>
<line x1="439.88" y1="237.50" x2="439.88" y2="241.50" stroke="#383838" stroke-width="1.35"/>
<text font-size="7.92" text-anchor="middle" fill="#000" transform="translate(439.88 250.30) scale(0.960 1)">40</text>
<line x1="397.40" y1="179.90" x2="401.40" y2="179.90" stroke="#383838" stroke-width="1.35"/>
<text font-size="7.92" text-anchor="end" fill="#000" transform="translate(396.20 182.60) scale(0.960 1)">60</text>
<line x1="459.12" y1="237.50" x2="459.12" y2="241.50" stroke="#383838" stroke-width="1.35"/>
<text font-size="7.92" text-anchor="middle" fill="#000" transform="translate(459.12 250.30) scale(0.960 1)">60</text>
<line x1="397.40" y1="160.70" x2="401.40" y2="160.70" stroke="#383838" stroke-width="1.35"/>
<text font-size="7.92" text-anchor="end" fill="#000" transform="translate(396.20 163.40) scale(0.960 1)">80</text>
<line x1="478.36" y1="237.50" x2="478.36" y2="241.50" stroke="#383838" stroke-width="1.35"/>
<text font-size="7.92" text-anchor="middle" fill="#000" transform="translate(478.36 250.30) scale(0.960 1)">80</text>
<line x1="397.40" y1="141.50" x2="401.40" y2="141.50" stroke="#383838" stroke-width="1.35"/>
<text font-size="7.92" text-anchor="end" fill="#000" transform="translate(396.20 144.20) scale(0.960 1)">100</text>
<line x1="497.60" y1="237.50" x2="497.60" y2="241.50" stroke="#383838" stroke-width="1.35"/>
<text font-size="7.92" text-anchor="middle" fill="#000" transform="translate(497.60 250.30) scale(0.960 1)">100</text>
<text font-size="8.23" text-anchor="middle" fill="#000" transform="translate(449.50 262.00) scale(0.960 1)">100% - Specificity%</text>
<text font-size="8.39" text-anchor="middle" fill="#000" transform="translate(376.20 189.50) rotate(-90) scale(0.960 1)">Sensitivity%</text>
<text font-size="8.33" text-anchor="start" font-style="italic" fill="#000" transform="translate(413.20 151.30) scale(0.960 1)">MAPK1</text>
<text font-size="8.23" text-anchor="start" fill="#000" transform="translate(447.20 223.10) scale(0.960 1)">AUC = 0.8044</text>
<text font-size="8.23" text-anchor="start" fill="#000" transform="translate(447.20 232.50) scale(0.960 1)"><tspan font-style="italic">p</tspan> &lt; 0.001</text>
<rect x="592.50" y="191.32" width="18.10" height="60.48" fill="none" stroke="#383838" stroke-width="1.35"/>
<rect x="620.00" y="202.55" width="17.80" height="49.25" fill="none" stroke="#383838" stroke-width="1.35"/>
<circle cx="599.96" cy="177.31" r="1.15" fill="#fff" stroke="#ff4040" stroke-width="0.65"/>
<circle cx="602.25" cy="177.06" r="1.15" fill="#fff" stroke="#ff4040" stroke-width="0.65"/>
<circle cx="601.17" cy="178.98" r="1.15" fill="#fff" stroke="#ff4040" stroke-width="0.65"/>
<circle cx="603.70" cy="179.25" r="1.15" fill="#fff" stroke="#ff4040" stroke-width="0.65"/>
<circle cx="596.45" cy="181.06" r="1.15" fill="#fff" stroke="#ff4040" stroke-width="0.65"/>
<circle cx="599.09" cy="181.46" r="1.15" fill="#fff" stroke="#ff4040" stroke-width="0.65"/>
<circle cx="603.97" cy="181.13" r="1.15" fill="#fff" stroke="#ff4040" stroke-width="0.65"/>
<circle cx="600.33" cy="183.24" r="1.15" fill="#fff" stroke="#ff4040" stroke-width="0.65"/>
<circle cx="602.83" cy="183.25" r="1.15" fill="#fff" stroke="#ff4040" stroke-width="0.65"/>
<circle cx="605.34" cy="183.08" r="1.15" fill="#fff" stroke="#ff4040" stroke-width="0.65"/>
<circle cx="594.23" cy="185.93" r="1.15" fill="#fff" stroke="#ff4040" stroke-width="0.65"/>
<circle cx="596.95" cy="186.15" r="1.15" fill="#fff" stroke="#ff4040" stroke-width="0.65"/>
<circle cx="599.06" cy="186.49" r="1.15" fill="#fff" stroke="#ff4040" stroke-width="0.65"/>
<circle cx="601.52" cy="185.97" r="1.15" fill="#fff" stroke="#ff4040" stroke-width="0.65"/>
<circle cx="604.38" cy="186.45" r="1.15" fill="#fff" stroke="#ff4040" stroke-width="0.65"/>
<circle cx="606.95" cy="186.24" r="1.15" fill="#fff" stroke="#ff4040" stroke-width="0.65"/>
<circle cx="595.55" cy="188.61" r="1.15" fill="#fff" stroke="#ff4040" stroke-width="0.65"/>
<circle cx="598.00" cy="188.37" r="1.15" fill="#fff" stroke="#ff4040" stroke-width="0.65"/>
<circle cx="600.35" cy="188.54" r="1.15" fill="#fff" stroke="#ff4040" stroke-width="0.65"/>
<circle cx="602.80" cy="188.34" r="1.15" fill="#fff" stroke="#ff4040" stroke-width="0.65"/>
<circle cx="605.60" cy="188.20" r="1.15" fill="#fff" stroke="#ff4040" stroke-width="0.65"/>
<circle cx="608.01" cy="188.52" r="1.15" fill="#fff" stroke="#ff4040" stroke-width="0.65"/>
<circle cx="594.19" cy="190.49" r="1.15" fill="#fff" stroke="#ff4040" stroke-width="0.65"/>
<circle cx="596.48" cy="190.66" r="1.15" fill="#fff" stroke="#ff4040" stroke-width="0.65"/>
<circle cx="601.69" cy="190.24" r="1.15" fill="#fff" stroke="#ff4040" stroke-width="0.65"/>
<circle cx="604.54" cy="190.72" r="1.15" fill="#fff" stroke="#ff4040" stroke-width="0.65"/>
<circle cx="606.97" cy="190.29" r="1.15" fill="#fff" stroke="#ff4040" stroke-width="0.65"/>
<circle cx="597.27" cy="193.16" r="1.15" fill="#fff" stroke="#ff4040" stroke-width="0.65"/>
<circle cx="599.36" cy="193.14" r="1.15" fill="#fff" stroke="#ff4040" stroke-width="0.65"/>
<circle cx="604.67" cy="193.36" r="1.15" fill="#fff" stroke="#ff4040" stroke-width="0.65"/>
<circle cx="607.14" cy="193.35" r="1.15" fill="#fff" stroke="#ff4040" stroke-width="0.65"/>
<circle cx="595.79" cy="195.24" r="1.15" fill="#fff" stroke="#ff4040" stroke-width="0.65"/>
<circle cx="598.47" cy="195.36" r="1.15" fill="#fff" stroke="#ff4040" stroke-width="0.65"/>
<circle cx="600.75" cy="195.29" r="1.15" fill="#fff" stroke="#ff4040" stroke-width="0.65"/>
<circle cx="603.16" cy="195.33" r="1.15" fill="#fff" stroke="#ff4040" stroke-width="0.65"/>
<circle cx="605.82" cy="195.27" r="1.15" fill="#fff" stroke="#ff4040" stroke-width="0.65"/>
<circle cx="596.84" cy="197.24" r="1.15" fill="#fff" stroke="#ff4040" stroke-width="0.65"/>
<circle cx="599.72" cy="197.74" r="1.15" fill="#fff" stroke="#ff4040" stroke-width="0.65"/>
<circle cx="602.19" cy="197.30" r="1.15" fill="#fff" stroke="#ff4040" stroke-width="0.65"/>
<circle cx="604.60" cy="197.17" r="1.15" fill="#fff" stroke="#ff4040" stroke-width="0.65"/>
<circle cx="606.71" cy="197.70" r="1.15" fill="#fff" stroke="#ff4040" stroke-width="0.65"/>
<circle cx="595.52" cy="199.80" r="1.15" fill="#fff" stroke="#ff4040" stroke-width="0.65"/>
<circle cx="597.99" cy="199.43" r="1.15" fill="#fff" stroke="#ff4040" stroke-width="0.65"/>
<circle cx="600.55" cy="199.52" r="1.15" fill="#fff" stroke="#ff4040" stroke-width="0.65"/>
<circle cx="603.22" cy="199.56" r="1.15" fill="#fff" stroke="#ff4040" stroke-width="0.65"/>
<circle cx="605.46" cy="199.61" r="1.15" fill="#fff" stroke="#ff4040" stroke-width="0.65"/>
<circle cx="598.81" cy="200.79" r="1.15" fill="#fff" stroke="#ff4040" stroke-width="0.65"/>
<circle cx="603.83" cy="201.18" r="1.15" fill="#fff" stroke="#ff4040" stroke-width="0.65"/>
<circle cx="597.46" cy="202.91" r="1.15" fill="#fff" stroke="#ff4040" stroke-width="0.65"/>
<circle cx="600.38" cy="203.03" r="1.15" fill="#fff" stroke="#ff4040" stroke-width="0.65"/>
<circle cx="602.86" cy="203.34" r="1.15" fill="#fff" stroke="#ff4040" stroke-width="0.65"/>
<circle cx="605.54" cy="203.54" r="1.15" fill="#fff" stroke="#ff4040" stroke-width="0.65"/>
<circle cx="600.33" cy="206.22" r="1.15" fill="#fff" stroke="#ff4040" stroke-width="0.65"/>
<circle cx="603.05" cy="205.96" r="1.15" fill="#fff" stroke="#ff4040" stroke-width="0.65"/>
<circle cx="598.99" cy="208.14" r="1.15" fill="#fff" stroke="#ff4040" stroke-width="0.65"/>
<circle cx="600.38" cy="210.79" r="1.15" fill="#fff" stroke="#ff4040" stroke-width="0.65"/>
<circle cx="603.26" cy="210.70" r="1.15" fill="#fff" stroke="#ff4040" stroke-width="0.65"/>
<circle cx="600.30" cy="164.10" r="1.15" fill="#fff" stroke="#ff4040" stroke-width="0.65"/>
<circle cx="602.40" cy="163.20" r="1.15" fill="#fff" stroke="#ff4040" stroke-width="0.65"/>
<circle cx="600.70" cy="167.50" r="1.15" fill="#fff" stroke="#ff4040" stroke-width="0.65"/>
<circle cx="601.90" cy="169.50" r="1.15" fill="#fff" stroke="#ff4040" stroke-width="0.65"/>
<circle cx="600.20" cy="171.60" r="1.15" fill="#fff" stroke="#ff4040" stroke-width="0.65"/>
<circle cx="602.20" cy="173.40" r="1.15" fill="#fff" stroke="#ff4040" stroke-width="0.65"/>
<circle cx="600.80" cy="175.20" r="1.15" fill="#fff" stroke="#ff4040" stroke-width="0.65"/>
<circle cx="601.20" cy="216.70" r="1.15" fill="#fff" stroke="#ff4040" stroke-width="0.65"/>
<circle cx="601.20" cy="222.20" r="1.15" fill="#fff" stroke="#ff4040" stroke-width="0.65"/>
<circle cx="601.20" cy="225.40" r="1.15" fill="#fff" stroke="#ff4040" stroke-width="0.65"/>
<circle cx="628.00" cy="177.91" r="1.15" fill="#fff" stroke="#40f040" stroke-width="0.65"/>
<circle cx="629.12" cy="180.76" r="1.15" fill="#fff" stroke="#40f040" stroke-width="0.65"/>
<circle cx="628.45" cy="184.59" r="1.15" fill="#fff" stroke="#40f040" stroke-width="0.65"/>
<circle cx="627.41" cy="186.40" r="1.15" fill="#fff" stroke="#40f040" stroke-width="0.65"/>
<circle cx="629.72" cy="186.64" r="1.15" fill="#fff" stroke="#40f040" stroke-width="0.65"/>
<circle cx="620.97" cy="189.28" r="1.15" fill="#fff" stroke="#40f040" stroke-width="0.65"/>
<circle cx="623.53" cy="189.60" r="1.15" fill="#fff" stroke="#40f040" stroke-width="0.65"/>
<circle cx="626.37" cy="189.92" r="1.15" fill="#fff" stroke="#40f040" stroke-width="0.65"/>
<circle cx="628.47" cy="189.46" r="1.15" fill="#fff" stroke="#40f040" stroke-width="0.65"/>
<circle cx="633.55" cy="189.37" r="1.15" fill="#fff" stroke="#40f040" stroke-width="0.65"/>
<circle cx="636.35" cy="189.95" r="1.15" fill="#fff" stroke="#40f040" stroke-width="0.65"/>
<circle cx="622.63" cy="191.95" r="1.15" fill="#fff" stroke="#40f040" stroke-width="0.65"/>
<circle cx="625.19" cy="191.59" r="1.15" fill="#fff" stroke="#40f040" stroke-width="0.65"/>
<circle cx="627.15" cy="191.54" r="1.15" fill="#fff" stroke="#40f040" stroke-width="0.65"/>
<circle cx="629.73" cy="192.01" r="1.15" fill="#fff" stroke="#40f040" stroke-width="0.65"/>
<circle cx="632.60" cy="191.69" r="1.15" fill="#fff" stroke="#40f040" stroke-width="0.65"/>
<circle cx="634.77" cy="192.09" r="1.15" fill="#fff" stroke="#40f040" stroke-width="0.65"/>
<circle cx="621.42" cy="194.31" r="1.15" fill="#fff" stroke="#40f040" stroke-width="0.65"/>
<circle cx="623.68" cy="193.68" r="1.15" fill="#fff" stroke="#40f040" stroke-width="0.65"/>
<circle cx="625.89" cy="194.29" r="1.15" fill="#fff" stroke="#40f040" stroke-width="0.65"/>
<circle cx="628.85" cy="193.87" r="1.15" fill="#fff" stroke="#40f040" stroke-width="0.65"/>
<circle cx="631.32" cy="193.90" r="1.15" fill="#fff" stroke="#40f040" stroke-width="0.65"/>
<circle cx="633.48" cy="193.67" r="1.15" fill="#fff" stroke="#40f040" stroke-width="0.65"/>
<circle cx="636.38" cy="194.05" r="1.15" fill="#fff" stroke="#40f040" stroke-width="0.65"/>
<circle cx="622.37" cy="196.02" r="1.15" fill="#fff" stroke="#40f040" stroke-width="0.65"/>
<circle cx="625.10" cy="195.81" r="1.15" fill="#fff" stroke="#40f040" stroke-width="0.65"/>
<circle cx="627.16" cy="195.89" r="1.15" fill="#fff" stroke="#40f040" stroke-width="0.65"/>
<circle cx="629.62" cy="195.99" r="1.15" fill="#fff" stroke="#40f040" stroke-width="0.65"/>
<circle cx="634.67" cy="195.93" r="1.15" fill="#fff" stroke="#40f040" stroke-width="0.65"/>
<circle cx="621.30" cy="198.08" r="1.15" fill="#fff" stroke="#40f040" stroke-width="0.65"/>
<circle cx="623.58" cy="198.78" r="1.15" fill="#fff" stroke="#40f040" stroke-width="0.65"/>
<circle cx="626.03" cy="198.20" r="1.15" fill="#fff" stroke="#40f040" stroke-width="0.65"/>
<circle cx="628.41" cy="198.52" r="1.15" fill="#fff" stroke="#40f040" stroke-width="0.65"/>
<circle cx="630.86" cy="198.79" r="1.15" fill="#fff" stroke="#40f040" stroke-width="0.65"/>
<circle cx="633.71" cy="198.36" r="1.15" fill="#fff" stroke="#40f040" stroke-width="0.65"/>
<circle cx="635.89" cy="198.73" r="1.15" fill="#fff" stroke="#40f040" stroke-width="0.65"/>
<circle cx="630.23" cy="200.89" r="1.15" fill="#fff" stroke="#40f040" stroke-width="0.65"/>
<circle cx="624.26" cy="203.13" r="1.15" fill="#fff" stroke="#40f040" stroke-width="0.65"/>
<circle cx="626.67" cy="202.85" r="1.15" fill="#fff" stroke="#40f040" stroke-width="0.65"/>
<circle cx="628.90" cy="202.82" r="1.15" fill="#fff" stroke="#40f040" stroke-width="0.65"/>
<circle cx="626.49" cy="206.21" r="1.15" fill="#fff" stroke="#40f040" stroke-width="0.65"/>
<circle cx="631.28" cy="205.96" r="1.15" fill="#fff" stroke="#40f040" stroke-width="0.65"/>
<circle cx="625.36" cy="208.61" r="1.15" fill="#fff" stroke="#40f040" stroke-width="0.65"/>
<circle cx="627.55" cy="208.34" r="1.15" fill="#fff" stroke="#40f040" stroke-width="0.65"/>
<circle cx="630.21" cy="208.10" r="1.15" fill="#fff" stroke="#40f040" stroke-width="0.65"/>
<circle cx="632.50" cy="207.96" r="1.15" fill="#fff" stroke="#40f040" stroke-width="0.65"/>
<circle cx="626.14" cy="210.16" r="1.15" fill="#fff" stroke="#40f040" stroke-width="0.65"/>
<circle cx="628.77" cy="210.73" r="1.15" fill="#fff" stroke="#40f040" stroke-width="0.65"/>
<circle cx="631.62" cy="210.22" r="1.15" fill="#fff" stroke="#40f040" stroke-width="0.65"/>
<circle cx="628.33" cy="213.96" r="1.15" fill="#fff" stroke="#40f040" stroke-width="0.65"/>
<circle cx="625.32" cy="228.09" r="1.15" fill="#fff" stroke="#40f040" stroke-width="0.65"/>
<circle cx="627.54" cy="227.39" r="1.15" fill="#fff" stroke="#40f040" stroke-width="0.65"/>
<circle cx="630.40" cy="227.53" r="1.15" fill="#fff" stroke="#40f040" stroke-width="0.65"/>
<circle cx="626.65" cy="229.53" r="1.15" fill="#fff" stroke="#40f040" stroke-width="0.65"/>
<circle cx="629.14" cy="230.14" r="1.15" fill="#fff" stroke="#40f040" stroke-width="0.65"/>
<circle cx="627.76" cy="231.84" r="1.15" fill="#fff" stroke="#40f040" stroke-width="0.65"/>
<circle cx="629.94" cy="232.27" r="1.15" fill="#fff" stroke="#40f040" stroke-width="0.65"/>
<circle cx="632.50" cy="231.75" r="1.15" fill="#fff" stroke="#40f040" stroke-width="0.65"/>
<circle cx="627.68" cy="237.43" r="1.15" fill="#fff" stroke="#40f040" stroke-width="0.65"/>
<circle cx="630.12" cy="237.32" r="1.15" fill="#fff" stroke="#40f040" stroke-width="0.65"/>
<circle cx="629.00" cy="222.50" r="1.15" fill="#fff" stroke="#40f040" stroke-width="0.65"/>
<line x1="601.55" y1="189.88" x2="601.55" y2="192.76" stroke="#555" stroke-width="0.6"/>
<line x1="597.05" y1="189.88" x2="606.05" y2="189.88" stroke="#555" stroke-width="0.6"/>
<line x1="597.05" y1="192.76" x2="606.05" y2="192.76" stroke="#555" stroke-width="0.6"/>
<line x1="628.90" y1="200.92" x2="628.90" y2="204.18" stroke="#555" stroke-width="0.6"/>
<line x1="624.40" y1="200.92" x2="633.40" y2="200.92" stroke="#555" stroke-width="0.6"/>
<line x1="624.40" y1="204.18" x2="633.40" y2="204.18" stroke="#555" stroke-width="0.6"/>
<line x1="583.30" y1="155.80" x2="583.30" y2="252.48" stroke="#383838" stroke-width="1.35"/>
<line x1="579.30" y1="251.80" x2="647.30" y2="251.80" stroke="#383838" stroke-width="1.35"/>
<line x1="579.30" y1="251.80" x2="583.30" y2="251.80" stroke="#383838" stroke-width="1.35"/>
<text font-size="7.92" text-anchor="end" fill="#000" transform="translate(577.90 254.50) scale(0.960 1)">0</text>
<line x1="579.30" y1="232.60" x2="583.30" y2="232.60" stroke="#383838" stroke-width="1.35"/>
<text font-size="7.92" text-anchor="end" fill="#000" transform="translate(577.90 235.30) scale(0.960 1)">2</text>
<line x1="579.30" y1="213.40" x2="583.30" y2="213.40" stroke="#383838" stroke-width="1.35"/>
<text font-size="7.92" text-anchor="end" fill="#000" transform="translate(577.90 216.10) scale(0.960 1)">4</text>
<line x1="579.30" y1="194.20" x2="583.30" y2="194.20" stroke="#383838" stroke-width="1.35"/>
<text font-size="7.92" text-anchor="end" fill="#000" transform="translate(577.90 196.90) scale(0.960 1)">6</text>
<line x1="579.30" y1="175.00" x2="583.30" y2="175.00" stroke="#383838" stroke-width="1.35"/>
<text font-size="7.92" text-anchor="end" fill="#000" transform="translate(577.90 177.70) scale(0.960 1)">8</text>
<line x1="579.30" y1="155.80" x2="583.30" y2="155.80" stroke="#383838" stroke-width="1.35"/>
<text font-size="7.92" text-anchor="end" fill="#000" transform="translate(577.90 158.50) scale(0.960 1)">10</text>
<line x1="601.30" y1="251.80" x2="601.30" y2="255.60" stroke="#383838" stroke-width="1.35"/>
<text font-size="8.23" text-anchor="middle" fill="#000" transform="translate(601.30 264.30) scale(0.960 1)">Control</text>
<line x1="628.80" y1="251.80" x2="628.80" y2="255.60" stroke="#383838" stroke-width="1.35"/>
<text font-size="8.23" text-anchor="middle" fill="#000" transform="translate(628.80 264.30) scale(0.960 1)">AD</text>
<text font-size="8.12" text-anchor="start" font-style="italic" fill="#000" transform="translate(592.90 147.60) scale(0.960 1)">IGF-1</text>
<text font-size="6.88" text-anchor="start" fill="#000" transform="translate(592.70 156.60) scale(0.960 1)"><tspan font-style="italic">p</tspan> &lt; 0.001</text>
<text font-size="8.33" text-anchor="middle" fill="#000" transform="translate(564.80 202.70) rotate(-90) scale(0.960 1)">Normalized expression</text>
<rect x="38.70" y="342.34" width="17.60" height="32.06" fill="none" stroke="#383838" stroke-width="1.35"/>
<rect x="66.50" y="350.35" width="17.50" height="24.05" fill="none" stroke="#383838" stroke-width="1.35"/>
<circle cx="42.30" cy="323.02" r="1.15" fill="#fff" stroke="#ff4040" stroke-width="0.65"/>
<circle cx="44.90" cy="323.46" r="1.15" fill="#fff" stroke="#ff4040" stroke-width="0.65"/>
<circle cx="47.36" cy="323.11" r="1.15" fill="#fff" stroke="#ff4040" stroke-width="0.65"/>
<circle cx="49.81" cy="323.66" r="1.15" fill="#fff" stroke="#ff4040" stroke-width="0.65"/>
<circle cx="40.64" cy="326.09" r="1.15" fill="#fff" stroke="#ff4040" stroke-width="0.65"/>
<circle cx="42.90" cy="326.02" r="1.15" fill="#fff" stroke="#ff4040" stroke-width="0.65"/>
<circle cx="45.79" cy="325.95" r="1.15" fill="#fff" stroke="#ff4040" stroke-width="0.65"/>
<circle cx="48.34" cy="325.79" r="1.15" fill="#fff" stroke="#ff4040" stroke-width="0.65"/>
<circle cx="50.69" cy="325.78" r="1.15" fill="#fff" stroke="#ff4040" stroke-width="0.65"/>
<circle cx="53.24" cy="326.33" r="1.15" fill="#fff" stroke="#ff4040" stroke-width="0.65"/>
<circle cx="42.04" cy="327.84" r="1.15" fill="#fff" stroke="#ff4040" stroke-width="0.65"/>
<circle cx="44.46" cy="328.50" r="1.15" fill="#fff" stroke="#ff4040" stroke-width="0.65"/>
<circle cx="47.11" cy="328.51" r="1.15" fill="#fff" stroke="#ff4040" stroke-width="0.65"/>
<circle cx="49.57" cy="328.48" r="1.15" fill="#fff" stroke="#ff4040" stroke-width="0.65"/>
<circle cx="52.07" cy="328.39" r="1.15" fill="#fff" stroke="#ff4040" stroke-width="0.65"/>
<circle cx="54.66" cy="328.52" r="1.15" fill="#fff" stroke="#ff4040" stroke-width="0.65"/>
<circle cx="43.01" cy="330.20" r="1.15" fill="#fff" stroke="#ff4040" stroke-width="0.65"/>
<circle cx="45.74" cy="330.61" r="1.15" fill="#fff" stroke="#ff4040" stroke-width="0.65"/>
<circle cx="48.31" cy="330.57" r="1.15" fill="#fff" stroke="#ff4040" stroke-width="0.65"/>
<circle cx="50.71" cy="330.13" r="1.15" fill="#fff" stroke="#ff4040" stroke-width="0.65"/>
<circle cx="52.92" cy="330.78" r="1.15" fill="#fff" stroke="#ff4040" stroke-width="0.65"/>
<circle cx="41.81" cy="332.93" r="1.15" fill="#fff" stroke="#ff4040" stroke-width="0.65"/>
<circle cx="47.12" cy="332.87" r="1.15" fill="#fff" stroke="#ff4040" stroke-width="0.65"/>
<circle cx="49.57" cy="332.56" r="1.15" fill="#fff" stroke="#ff4040" stroke-width="0.65"/>
<circle cx="40.88" cy="334.75" r="1.15" fill="#fff" stroke="#ff4040" stroke-width="0.65"/>
<circle cx="43.10" cy="334.50" r="1.15" fill="#fff" stroke="#ff4040" stroke-width="0.65"/>
<circle cx="50.76" cy="334.73" r="1.15" fill="#fff" stroke="#ff4040" stroke-width="0.65"/>
<circle cx="53.08" cy="334.60" r="1.15" fill="#fff" stroke="#ff4040" stroke-width="0.65"/>
<circle cx="39.15" cy="336.75" r="1.15" fill="#fff" stroke="#ff4040" stroke-width="0.65"/>
<circle cx="41.66" cy="337.10" r="1.15" fill="#fff" stroke="#ff4040" stroke-width="0.65"/>
<circle cx="44.65" cy="336.77" r="1.15" fill="#fff" stroke="#ff4040" stroke-width="0.65"/>
<circle cx="46.98" cy="336.82" r="1.15" fill="#fff" stroke="#ff4040" stroke-width="0.65"/>
<circle cx="49.30" cy="337.15" r="1.15" fill="#fff" stroke="#ff4040" stroke-width="0.65"/>
<circle cx="52.14" cy="337.38" r="1.15" fill="#fff" stroke="#ff4040" stroke-width="0.65"/>
<circle cx="54.44" cy="337.28" r="1.15" fill="#fff" stroke="#ff4040" stroke-width="0.65"/>
<circle cx="40.74" cy="339.11" r="1.15" fill="#fff" stroke="#ff4040" stroke-width="0.65"/>
<circle cx="42.96" cy="339.45" r="1.15" fill="#fff" stroke="#ff4040" stroke-width="0.65"/>
<circle cx="45.85" cy="339.24" r="1.15" fill="#fff" stroke="#ff4040" stroke-width="0.65"/>
<circle cx="50.98" cy="338.91" r="1.15" fill="#fff" stroke="#ff4040" stroke-width="0.65"/>
<circle cx="53.24" cy="339.05" r="1.15" fill="#fff" stroke="#ff4040" stroke-width="0.65"/>
<circle cx="39.36" cy="341.42" r="1.15" fill="#fff" stroke="#ff4040" stroke-width="0.65"/>
<circle cx="41.92" cy="341.36" r="1.15" fill="#fff" stroke="#ff4040" stroke-width="0.65"/>
<circle cx="44.39" cy="341.63" r="1.15" fill="#fff" stroke="#ff4040" stroke-width="0.65"/>
<circle cx="46.95" cy="341.52" r="1.15" fill="#fff" stroke="#ff4040" stroke-width="0.65"/>
<circle cx="49.27" cy="341.00" r="1.15" fill="#fff" stroke="#ff4040" stroke-width="0.65"/>
<circle cx="52.01" cy="341.71" r="1.15" fill="#fff" stroke="#ff4040" stroke-width="0.65"/>
<circle cx="44.99" cy="343.17" r="1.15" fill="#fff" stroke="#ff4040" stroke-width="0.65"/>
<circle cx="49.85" cy="343.59" r="1.15" fill="#fff" stroke="#ff4040" stroke-width="0.65"/>
<circle cx="43.25" cy="345.50" r="1.15" fill="#fff" stroke="#ff4040" stroke-width="0.65"/>
<circle cx="45.87" cy="345.00" r="1.15" fill="#fff" stroke="#ff4040" stroke-width="0.65"/>
<circle cx="48.41" cy="345.32" r="1.15" fill="#fff" stroke="#ff4040" stroke-width="0.65"/>
<circle cx="44.84" cy="347.92" r="1.15" fill="#fff" stroke="#ff4040" stroke-width="0.65"/>
<circle cx="47.20" cy="347.80" r="1.15" fill="#fff" stroke="#ff4040" stroke-width="0.65"/>
<circle cx="49.79" cy="347.70" r="1.15" fill="#fff" stroke="#ff4040" stroke-width="0.65"/>
<circle cx="43.53" cy="349.91" r="1.15" fill="#fff" stroke="#ff4040" stroke-width="0.65"/>
<circle cx="48.66" cy="350.01" r="1.15" fill="#fff" stroke="#ff4040" stroke-width="0.65"/>
<circle cx="44.61" cy="351.81" r="1.15" fill="#fff" stroke="#ff4040" stroke-width="0.65"/>
<circle cx="47.42" cy="352.04" r="1.15" fill="#fff" stroke="#ff4040" stroke-width="0.65"/>
<circle cx="49.90" cy="351.99" r="1.15" fill="#fff" stroke="#ff4040" stroke-width="0.65"/>
<circle cx="43.18" cy="354.21" r="1.15" fill="#fff" stroke="#ff4040" stroke-width="0.65"/>
<circle cx="45.90" cy="354.08" r="1.15" fill="#fff" stroke="#ff4040" stroke-width="0.65"/>
<circle cx="48.16" cy="354.21" r="1.15" fill="#fff" stroke="#ff4040" stroke-width="0.65"/>
<circle cx="44.64" cy="356.55" r="1.15" fill="#fff" stroke="#ff4040" stroke-width="0.65"/>
<circle cx="47.03" cy="356.17" r="1.15" fill="#fff" stroke="#ff4040" stroke-width="0.65"/>
<circle cx="43.19" cy="358.86" r="1.15" fill="#fff" stroke="#ff4040" stroke-width="0.65"/>
<circle cx="45.87" cy="358.61" r="1.15" fill="#fff" stroke="#ff4040" stroke-width="0.65"/>
<circle cx="48.25" cy="358.72" r="1.15" fill="#fff" stroke="#ff4040" stroke-width="0.65"/>
<circle cx="51.14" cy="358.42" r="1.15" fill="#fff" stroke="#ff4040" stroke-width="0.65"/>
<circle cx="44.54" cy="360.85" r="1.15" fill="#fff" stroke="#ff4040" stroke-width="0.65"/>
<circle cx="47.37" cy="361.09" r="1.15" fill="#fff" stroke="#ff4040" stroke-width="0.65"/>
<circle cx="49.53" cy="361.17" r="1.15" fill="#fff" stroke="#ff4040" stroke-width="0.65"/>
<circle cx="44.66" cy="362.72" r="1.15" fill="#fff" stroke="#ff4040" stroke-width="0.65"/>
<circle cx="49.34" cy="363.05" r="1.15" fill="#fff" stroke="#ff4040" stroke-width="0.65"/>
<circle cx="44.53" cy="367.23" r="1.15" fill="#fff" stroke="#ff4040" stroke-width="0.65"/>
<circle cx="49.70" cy="367.68" r="1.15" fill="#fff" stroke="#ff4040" stroke-width="0.65"/>
<circle cx="45.56" cy="369.72" r="1.15" fill="#fff" stroke="#ff4040" stroke-width="0.65"/>
<circle cx="47.98" cy="369.87" r="1.15" fill="#fff" stroke="#ff4040" stroke-width="0.65"/>
<circle cx="44.60" cy="371.69" r="1.15" fill="#fff" stroke="#ff4040" stroke-width="0.65"/>
<circle cx="47.08" cy="371.74" r="1.15" fill="#fff" stroke="#ff4040" stroke-width="0.65"/>
<circle cx="49.39" cy="371.89" r="1.15" fill="#fff" stroke="#ff4040" stroke-width="0.65"/>
<circle cx="47.00" cy="308.80" r="1.15" fill="#fff" stroke="#ff4040" stroke-width="0.65"/>
<circle cx="47.00" cy="315.70" r="1.15" fill="#fff" stroke="#ff4040" stroke-width="0.65"/>
<circle cx="47.00" cy="318.00" r="1.15" fill="#fff" stroke="#ff4040" stroke-width="0.65"/>
<circle cx="47.00" cy="374.30" r="1.15" fill="#fff" stroke="#ff4040" stroke-width="0.65"/>
<circle cx="70.66" cy="328.54" r="1.15" fill="#fff" stroke="#40f040" stroke-width="0.65"/>
<circle cx="73.58" cy="328.67" r="1.15" fill="#fff" stroke="#40f040" stroke-width="0.65"/>
<circle cx="75.97" cy="329.15" r="1.15" fill="#fff" stroke="#40f040" stroke-width="0.65"/>
<circle cx="72.01" cy="331.37" r="1.15" fill="#fff" stroke="#40f040" stroke-width="0.65"/>
<circle cx="74.72" cy="330.78" r="1.15" fill="#fff" stroke="#40f040" stroke-width="0.65"/>
<circle cx="77.10" cy="331.00" r="1.15" fill="#fff" stroke="#40f040" stroke-width="0.65"/>
<circle cx="79.44" cy="331.36" r="1.15" fill="#fff" stroke="#40f040" stroke-width="0.65"/>
<circle cx="70.90" cy="333.07" r="1.15" fill="#fff" stroke="#40f040" stroke-width="0.65"/>
<circle cx="73.25" cy="333.37" r="1.15" fill="#fff" stroke="#40f040" stroke-width="0.65"/>
<circle cx="68.78" cy="334.69" r="1.15" fill="#fff" stroke="#40f040" stroke-width="0.65"/>
<circle cx="71.03" cy="334.46" r="1.15" fill="#fff" stroke="#40f040" stroke-width="0.65"/>
<circle cx="76.33" cy="334.61" r="1.15" fill="#fff" stroke="#40f040" stroke-width="0.65"/>
<circle cx="78.85" cy="334.01" r="1.15" fill="#fff" stroke="#40f040" stroke-width="0.65"/>
<circle cx="81.20" cy="334.05" r="1.15" fill="#fff" stroke="#40f040" stroke-width="0.65"/>
<circle cx="67.13" cy="336.57" r="1.15" fill="#fff" stroke="#40f040" stroke-width="0.65"/>
<circle cx="74.59" cy="336.87" r="1.15" fill="#fff" stroke="#40f040" stroke-width="0.65"/>
<circle cx="77.21" cy="336.29" r="1.15" fill="#fff" stroke="#40f040" stroke-width="0.65"/>
<circle cx="79.57" cy="336.71" r="1.15" fill="#fff" stroke="#40f040" stroke-width="0.65"/>
<circle cx="82.46" cy="336.88" r="1.15" fill="#fff" stroke="#40f040" stroke-width="0.65"/>
<circle cx="68.53" cy="338.90" r="1.15" fill="#fff" stroke="#40f040" stroke-width="0.65"/>
<circle cx="73.45" cy="338.45" r="1.15" fill="#fff" stroke="#40f040" stroke-width="0.65"/>
<circle cx="78.51" cy="338.88" r="1.15" fill="#fff" stroke="#40f040" stroke-width="0.65"/>
<circle cx="81.11" cy="338.45" r="1.15" fill="#fff" stroke="#40f040" stroke-width="0.65"/>
<circle cx="67.30" cy="340.76" r="1.15" fill="#fff" stroke="#40f040" stroke-width="0.65"/>
<circle cx="72.45" cy="341.17" r="1.15" fill="#fff" stroke="#40f040" stroke-width="0.65"/>
<circle cx="74.98" cy="341.20" r="1.15" fill="#fff" stroke="#40f040" stroke-width="0.65"/>
<circle cx="77.64" cy="340.72" r="1.15" fill="#fff" stroke="#40f040" stroke-width="0.65"/>
<circle cx="70.85" cy="343.45" r="1.15" fill="#fff" stroke="#40f040" stroke-width="0.65"/>
<circle cx="73.52" cy="343.59" r="1.15" fill="#fff" stroke="#40f040" stroke-width="0.65"/>
<circle cx="76.12" cy="343.15" r="1.15" fill="#fff" stroke="#40f040" stroke-width="0.65"/>
<circle cx="78.54" cy="343.37" r="1.15" fill="#fff" stroke="#40f040" stroke-width="0.65"/>
<circle cx="67.36" cy="345.07" r="1.15" fill="#fff" stroke="#40f040" stroke-width="0.65"/>
<circle cx="69.60" cy="345.03" r="1.15" fill="#fff" stroke="#40f040" stroke-width="0.65"/>
<circle cx="72.49" cy="345.25" r="1.15" fill="#fff" stroke="#40f040" stroke-width="0.65"/>
<circle cx="75.03" cy="345.65" r="1.15" fill="#fff" stroke="#40f040" stroke-width="0.65"/>
<circle cx="79.80" cy="345.20" r="1.15" fill="#fff" stroke="#40f040" stroke-width="0.65"/>
<circle cx="82.25" cy="345.27" r="1.15" fill="#fff" stroke="#40f040" stroke-width="0.65"/>
<circle cx="72.87" cy="348.17" r="1.15" fill="#fff" stroke="#40f040" stroke-width="0.65"/>
<circle cx="75.19" cy="348.06" r="1.15" fill="#fff" stroke="#40f040" stroke-width="0.65"/>
<circle cx="71.55" cy="350.46" r="1.15" fill="#fff" stroke="#40f040" stroke-width="0.65"/>
<circle cx="74.09" cy="350.57" r="1.15" fill="#fff" stroke="#40f040" stroke-width="0.65"/>
<circle cx="76.14" cy="350.20" r="1.15" fill="#fff" stroke="#40f040" stroke-width="0.65"/>
<circle cx="78.61" cy="350.18" r="1.15" fill="#fff" stroke="#40f040" stroke-width="0.65"/>
<circle cx="72.33" cy="352.75" r="1.15" fill="#fff" stroke="#40f040" stroke-width="0.65"/>
<circle cx="74.99" cy="352.34" r="1.15" fill="#fff" stroke="#40f040" stroke-width="0.65"/>
<circle cx="77.50" cy="352.70" r="1.15" fill="#fff" stroke="#40f040" stroke-width="0.65"/>
<circle cx="71.37" cy="354.42" r="1.15" fill="#fff" stroke="#40f040" stroke-width="0.65"/>
<circle cx="76.25" cy="354.36" r="1.15" fill="#fff" stroke="#40f040" stroke-width="0.65"/>
<circle cx="72.85" cy="357.24" r="1.15" fill="#fff" stroke="#40f040" stroke-width="0.65"/>
<circle cx="76.13" cy="359.12" r="1.15" fill="#fff" stroke="#40f040" stroke-width="0.65"/>
<circle cx="79.15" cy="359.33" r="1.15" fill="#fff" stroke="#40f040" stroke-width="0.65"/>
<circle cx="72.75" cy="361.19" r="1.15" fill="#fff" stroke="#40f040" stroke-width="0.65"/>
<circle cx="77.54" cy="361.27" r="1.15" fill="#fff" stroke="#40f040" stroke-width="0.65"/>
<circle cx="73.65" cy="363.22" r="1.15" fill="#fff" stroke="#40f040" stroke-width="0.65"/>
<circle cx="76.39" cy="363.83" r="1.15" fill="#fff" stroke="#40f040" stroke-width="0.65"/>
<circle cx="78.80" cy="363.68" r="1.15" fill="#fff" stroke="#40f040" stroke-width="0.65"/>
<circle cx="72.36" cy="365.74" r="1.15" fill="#fff" stroke="#40f040" stroke-width="0.65"/>
<circle cx="74.86" cy="365.51" r="1.15" fill="#fff" stroke="#40f040" stroke-width="0.65"/>
<circle cx="77.62" cy="365.36" r="1.15" fill="#fff" stroke="#40f040" stroke-width="0.65"/>
<circle cx="71.06" cy="367.61" r="1.15" fill="#fff" stroke="#40f040" stroke-width="0.65"/>
<circle cx="73.57" cy="367.12" r="1.15" fill="#fff" stroke="#40f040" stroke-width="0.65"/>
<circle cx="76.06" cy="367.67" r="1.15" fill="#fff" stroke="#40f040" stroke-width="0.65"/>
<circle cx="78.58" cy="367.58" r="1.15" fill="#fff" stroke="#40f040" stroke-width="0.65"/>
<circle cx="77.21" cy="369.74" r="1.15" fill="#fff" stroke="#40f040" stroke-width="0.65"/>
<circle cx="71.92" cy="374.30" r="1.15" fill="#fff" stroke="#40f040" stroke-width="0.65"/>
<circle cx="77.09" cy="374.02" r="1.15" fill="#fff" stroke="#40f040" stroke-width="0.65"/>
<circle cx="75.10" cy="382.20" r="1.15" fill="#fff" stroke="#40f040" stroke-width="0.65"/>
<line x1="47.50" y1="340.74" x2="47.50" y2="343.94" stroke="#555" stroke-width="0.6"/>
<line x1="43.00" y1="340.74" x2="52.00" y2="340.74" stroke="#555" stroke-width="0.6"/>
<line x1="43.00" y1="343.94" x2="52.00" y2="343.94" stroke="#555" stroke-width="0.6"/>
<line x1="75.25" y1="349.15" x2="75.25" y2="351.56" stroke="#555" stroke-width="0.6"/>
<line x1="70.75" y1="349.15" x2="79.75" y2="349.15" stroke="#555" stroke-width="0.6"/>
<line x1="70.75" y1="351.56" x2="79.75" y2="351.56" stroke="#555" stroke-width="0.6"/>
<line x1="29.50" y1="294.25" x2="29.50" y2="391.10" stroke="#383838" stroke-width="1.35"/>
<line x1="25.50" y1="390.43" x2="93.40" y2="390.43" stroke="#383838" stroke-width="1.35"/>
<line x1="25.50" y1="374.40" x2="93.40" y2="374.40" stroke="#383838" stroke-width="1.35"/>
<line x1="25.50" y1="390.43" x2="29.50" y2="390.43" stroke="#383838" stroke-width="1.35"/>
<text font-size="7.92" text-anchor="end" fill="#000" transform="translate(24.10 393.13) scale(0.960 1)">-2</text>
<line x1="25.50" y1="374.40" x2="29.50" y2="374.40" stroke="#383838" stroke-width="1.35"/>
<text font-size="7.92" text-anchor="end" fill="#000" transform="translate(24.10 377.10) scale(0.960 1)">0</text>
<line x1="25.50" y1="358.37" x2="29.50" y2="358.37" stroke="#383838" stroke-width="1.35"/>
<text font-size="7.92" text-anchor="end" fill="#000" transform="translate(24.10 361.07) scale(0.960 1)">2</text>
<line x1="25.50" y1="342.34" x2="29.50" y2="342.34" stroke="#383838" stroke-width="1.35"/>
<text font-size="7.92" text-anchor="end" fill="#000" transform="translate(24.10 345.04) scale(0.960 1)">4</text>
<line x1="25.50" y1="326.31" x2="29.50" y2="326.31" stroke="#383838" stroke-width="1.35"/>
<text font-size="7.92" text-anchor="end" fill="#000" transform="translate(24.10 329.01) scale(0.960 1)">6</text>
<line x1="25.50" y1="310.28" x2="29.50" y2="310.28" stroke="#383838" stroke-width="1.35"/>
<text font-size="7.92" text-anchor="end" fill="#000" transform="translate(24.10 312.98) scale(0.960 1)">8</text>
<line x1="25.50" y1="294.25" x2="29.50" y2="294.25" stroke="#383838" stroke-width="1.35"/>
<text font-size="7.92" text-anchor="end" fill="#000" transform="translate(24.10 296.95) scale(0.960 1)">10</text>
<line x1="47.40" y1="390.43" x2="47.40" y2="394.23" stroke="#383838" stroke-width="1.35"/>
<text font-size="8.23" text-anchor="middle" fill="#000" transform="translate(47.40 402.90) scale(0.960 1)">Control</text>
<line x1="75.20" y1="390.43" x2="75.20" y2="394.23" stroke="#383838" stroke-width="1.35"/>
<text font-size="8.23" text-anchor="middle" fill="#000" transform="translate(75.20 402.90) scale(0.960 1)">AD</text>
<text font-size="8.12" text-anchor="start" font-style="italic" fill="#000" transform="translate(47.70 288.00) scale(0.960 1)">ALB</text>
<text font-size="6.88" text-anchor="start" fill="#000" transform="translate(41.20 296.90) scale(0.960 1)"><tspan font-style="italic">p</tspan> &lt; 0.001</text>
<text font-size="8.33" text-anchor="middle" fill="#000" transform="translate(11.30 341.00) rotate(-90) scale(0.960 1)">Normalized expression</text>
<rect x="152.40" y="349.00" width="18.10" height="44.20" fill="none" stroke="#383838" stroke-width="1.35"/>
<rect x="179.70" y="340.03" width="17.90" height="53.17" fill="none" stroke="#383838" stroke-width="1.35"/>
<circle cx="159.27" cy="335.88" r="1.15" fill="#fff" stroke="#ff4040" stroke-width="0.65"/>
<circle cx="161.86" cy="335.44" r="1.15" fill="#fff" stroke="#ff4040" stroke-width="0.65"/>
<circle cx="160.50" cy="337.50" r="1.15" fill="#fff" stroke="#ff4040" stroke-width="0.65"/>
<circle cx="163.53" cy="338.00" r="1.15" fill="#fff" stroke="#ff4040" stroke-width="0.65"/>
<circle cx="158.09" cy="339.14" r="1.15" fill="#fff" stroke="#ff4040" stroke-width="0.65"/>
<circle cx="160.58" cy="339.35" r="1.15" fill="#fff" stroke="#ff4040" stroke-width="0.65"/>
<circle cx="165.63" cy="338.95" r="1.15" fill="#fff" stroke="#ff4040" stroke-width="0.65"/>
<circle cx="156.80" cy="341.37" r="1.15" fill="#fff" stroke="#ff4040" stroke-width="0.65"/>
<circle cx="159.59" cy="341.03" r="1.15" fill="#fff" stroke="#ff4040" stroke-width="0.65"/>
<circle cx="162.10" cy="341.49" r="1.15" fill="#fff" stroke="#ff4040" stroke-width="0.65"/>
<circle cx="164.22" cy="341.22" r="1.15" fill="#fff" stroke="#ff4040" stroke-width="0.65"/>
<circle cx="155.65" cy="343.82" r="1.15" fill="#fff" stroke="#ff4040" stroke-width="0.65"/>
<circle cx="158.26" cy="343.41" r="1.15" fill="#fff" stroke="#ff4040" stroke-width="0.65"/>
<circle cx="160.73" cy="343.40" r="1.15" fill="#fff" stroke="#ff4040" stroke-width="0.65"/>
<circle cx="163.04" cy="343.37" r="1.15" fill="#fff" stroke="#ff4040" stroke-width="0.65"/>
<circle cx="165.32" cy="343.38" r="1.15" fill="#fff" stroke="#ff4040" stroke-width="0.65"/>
<circle cx="154.51" cy="345.34" r="1.15" fill="#fff" stroke="#ff4040" stroke-width="0.65"/>
<circle cx="157.51" cy="345.67" r="1.15" fill="#fff" stroke="#ff4040" stroke-width="0.65"/>
<circle cx="160.10" cy="345.41" r="1.15" fill="#fff" stroke="#ff4040" stroke-width="0.65"/>
<circle cx="162.44" cy="345.75" r="1.15" fill="#fff" stroke="#ff4040" stroke-width="0.65"/>
<circle cx="164.97" cy="345.59" r="1.15" fill="#fff" stroke="#ff4040" stroke-width="0.65"/>
<circle cx="167.29" cy="345.98" r="1.15" fill="#fff" stroke="#ff4040" stroke-width="0.65"/>
<circle cx="153.30" cy="347.50" r="1.15" fill="#fff" stroke="#ff4040" stroke-width="0.65"/>
<circle cx="158.27" cy="347.60" r="1.15" fill="#fff" stroke="#ff4040" stroke-width="0.65"/>
<circle cx="161.32" cy="347.72" r="1.15" fill="#fff" stroke="#ff4040" stroke-width="0.65"/>
<circle cx="163.75" cy="347.47" r="1.15" fill="#fff" stroke="#ff4040" stroke-width="0.65"/>
<circle cx="166.35" cy="347.84" r="1.15" fill="#fff" stroke="#ff4040" stroke-width="0.65"/>
<circle cx="168.46" cy="348.16" r="1.15" fill="#fff" stroke="#ff4040" stroke-width="0.65"/>
<circle cx="160.83" cy="350.54" r="1.15" fill="#fff" stroke="#ff4040" stroke-width="0.65"/>
<circle cx="163.07" cy="350.41" r="1.15" fill="#fff" stroke="#ff4040" stroke-width="0.65"/>
<circle cx="165.79" cy="350.83" r="1.15" fill="#fff" stroke="#ff4040" stroke-width="0.65"/>
<circle cx="157.22" cy="352.94" r="1.15" fill="#fff" stroke="#ff4040" stroke-width="0.65"/>
<circle cx="159.48" cy="352.93" r="1.15" fill="#fff" stroke="#ff4040" stroke-width="0.65"/>
<circle cx="162.05" cy="353.12" r="1.15" fill="#fff" stroke="#ff4040" stroke-width="0.65"/>
<circle cx="164.76" cy="352.48" r="1.15" fill="#fff" stroke="#ff4040" stroke-width="0.65"/>
<circle cx="161.04" cy="355.56" r="1.15" fill="#fff" stroke="#ff4040" stroke-width="0.65"/>
<circle cx="163.25" cy="356.11" r="1.15" fill="#fff" stroke="#ff4040" stroke-width="0.65"/>
<circle cx="162.05" cy="358.32" r="1.15" fill="#fff" stroke="#ff4040" stroke-width="0.65"/>
<circle cx="160.63" cy="360.41" r="1.15" fill="#fff" stroke="#ff4040" stroke-width="0.65"/>
<circle cx="163.29" cy="359.81" r="1.15" fill="#fff" stroke="#ff4040" stroke-width="0.65"/>
<circle cx="161.20" cy="330.00" r="1.15" fill="#fff" stroke="#ff4040" stroke-width="0.65"/>
<circle cx="161.20" cy="365.20" r="1.15" fill="#fff" stroke="#ff4040" stroke-width="0.65"/>
<circle cx="161.20" cy="368.40" r="1.15" fill="#fff" stroke="#ff4040" stroke-width="0.65"/>
<circle cx="161.20" cy="371.60" r="1.15" fill="#fff" stroke="#ff4040" stroke-width="0.65"/>
<circle cx="161.20" cy="382.90" r="1.15" fill="#fff" stroke="#ff4040" stroke-width="0.65"/>
<circle cx="189.51" cy="330.37" r="1.15" fill="#fff" stroke="#40f040" stroke-width="0.65"/>
<circle cx="182.52" cy="333.15" r="1.15" fill="#fff" stroke="#40f040" stroke-width="0.65"/>
<circle cx="185.21" cy="332.98" r="1.15" fill="#fff" stroke="#40f040" stroke-width="0.65"/>
<circle cx="187.62" cy="333.13" r="1.15" fill="#fff" stroke="#40f040" stroke-width="0.65"/>
<circle cx="189.82" cy="333.25" r="1.15" fill="#fff" stroke="#40f040" stroke-width="0.65"/>
<circle cx="192.78" cy="333.23" r="1.15" fill="#fff" stroke="#40f040" stroke-width="0.65"/>
<circle cx="194.79" cy="333.13" r="1.15" fill="#fff" stroke="#40f040" stroke-width="0.65"/>
<circle cx="181.37" cy="335.21" r="1.15" fill="#fff" stroke="#40f040" stroke-width="0.65"/>
<circle cx="183.67" cy="335.38" r="1.15" fill="#fff" stroke="#40f040" stroke-width="0.65"/>
<circle cx="186.31" cy="335.14" r="1.15" fill="#fff" stroke="#40f040" stroke-width="0.65"/>
<circle cx="188.87" cy="335.43" r="1.15" fill="#fff" stroke="#40f040" stroke-width="0.65"/>
<circle cx="191.15" cy="335.55" r="1.15" fill="#fff" stroke="#40f040" stroke-width="0.65"/>
<circle cx="193.94" cy="335.71" r="1.15" fill="#fff" stroke="#40f040" stroke-width="0.65"/>
<circle cx="182.50" cy="337.46" r="1.15" fill="#fff" stroke="#40f040" stroke-width="0.65"/>
<circle cx="184.78" cy="337.41" r="1.15" fill="#fff" stroke="#40f040" stroke-width="0.65"/>
<circle cx="187.52" cy="337.76" r="1.15" fill="#fff" stroke="#40f040" stroke-width="0.65"/>
<circle cx="190.11" cy="337.38" r="1.15" fill="#fff" stroke="#40f040" stroke-width="0.65"/>
<circle cx="192.54" cy="337.91" r="1.15" fill="#fff" stroke="#40f040" stroke-width="0.65"/>
<circle cx="194.70" cy="337.22" r="1.15" fill="#fff" stroke="#40f040" stroke-width="0.65"/>
<circle cx="181.32" cy="339.47" r="1.15" fill="#fff" stroke="#40f040" stroke-width="0.65"/>
<circle cx="183.86" cy="340.19" r="1.15" fill="#fff" stroke="#40f040" stroke-width="0.65"/>
<circle cx="186.31" cy="339.81" r="1.15" fill="#fff" stroke="#40f040" stroke-width="0.65"/>
<circle cx="188.65" cy="339.51" r="1.15" fill="#fff" stroke="#40f040" stroke-width="0.65"/>
<circle cx="191.41" cy="339.94" r="1.15" fill="#fff" stroke="#40f040" stroke-width="0.65"/>
<circle cx="193.50" cy="339.98" r="1.15" fill="#fff" stroke="#40f040" stroke-width="0.65"/>
<circle cx="182.39" cy="341.82" r="1.15" fill="#fff" stroke="#40f040" stroke-width="0.65"/>
<circle cx="184.72" cy="341.71" r="1.15" fill="#fff" stroke="#40f040" stroke-width="0.65"/>
<circle cx="187.76" cy="342.11" r="1.15" fill="#fff" stroke="#40f040" stroke-width="0.65"/>
<circle cx="190.11" cy="341.82" r="1.15" fill="#fff" stroke="#40f040" stroke-width="0.65"/>
<circle cx="192.39" cy="342.36" r="1.15" fill="#fff" stroke="#40f040" stroke-width="0.65"/>
<circle cx="195.18" cy="342.11" r="1.15" fill="#fff" stroke="#40f040" stroke-width="0.65"/>
<circle cx="181.31" cy="344.50" r="1.15" fill="#fff" stroke="#40f040" stroke-width="0.65"/>
<circle cx="183.86" cy="344.30" r="1.15" fill="#fff" stroke="#40f040" stroke-width="0.65"/>
<circle cx="186.29" cy="344.23" r="1.15" fill="#fff" stroke="#40f040" stroke-width="0.65"/>
<circle cx="188.99" cy="344.31" r="1.15" fill="#fff" stroke="#40f040" stroke-width="0.65"/>
<circle cx="190.98" cy="344.21" r="1.15" fill="#fff" stroke="#40f040" stroke-width="0.65"/>
<circle cx="193.58" cy="344.15" r="1.15" fill="#fff" stroke="#40f040" stroke-width="0.65"/>
<circle cx="185.35" cy="345.12" r="1.15" fill="#fff" stroke="#40f040" stroke-width="0.65"/>
<circle cx="187.98" cy="345.22" r="1.15" fill="#fff" stroke="#40f040" stroke-width="0.65"/>
<circle cx="190.42" cy="345.42" r="1.15" fill="#fff" stroke="#40f040" stroke-width="0.65"/>
<circle cx="193.03" cy="345.58" r="1.15" fill="#fff" stroke="#40f040" stroke-width="0.65"/>
<circle cx="184.36" cy="347.12" r="1.15" fill="#fff" stroke="#40f040" stroke-width="0.65"/>
<circle cx="186.86" cy="347.22" r="1.15" fill="#fff" stroke="#40f040" stroke-width="0.65"/>
<circle cx="189.04" cy="347.80" r="1.15" fill="#fff" stroke="#40f040" stroke-width="0.65"/>
<circle cx="191.95" cy="347.78" r="1.15" fill="#fff" stroke="#40f040" stroke-width="0.65"/>
<circle cx="185.73" cy="349.43" r="1.15" fill="#fff" stroke="#40f040" stroke-width="0.65"/>
<circle cx="187.93" cy="349.65" r="1.15" fill="#fff" stroke="#40f040" stroke-width="0.65"/>
<circle cx="190.56" cy="349.52" r="1.15" fill="#fff" stroke="#40f040" stroke-width="0.65"/>
<circle cx="193.18" cy="349.78" r="1.15" fill="#fff" stroke="#40f040" stroke-width="0.65"/>
<circle cx="187.52" cy="352.94" r="1.15" fill="#fff" stroke="#40f040" stroke-width="0.65"/>
<circle cx="189.68" cy="352.65" r="1.15" fill="#fff" stroke="#40f040" stroke-width="0.65"/>
<circle cx="188.60" cy="321.60" r="1.15" fill="#fff" stroke="#40f040" stroke-width="0.65"/>
<circle cx="189.60" cy="355.20" r="1.15" fill="#fff" stroke="#40f040" stroke-width="0.65"/>
<circle cx="188.30" cy="359.00" r="1.15" fill="#fff" stroke="#40f040" stroke-width="0.65"/>
<line x1="161.45" y1="348.04" x2="161.45" y2="349.96" stroke="#555" stroke-width="0.6"/>
<line x1="156.95" y1="348.04" x2="165.95" y2="348.04" stroke="#555" stroke-width="0.6"/>
<line x1="156.95" y1="349.96" x2="165.95" y2="349.96" stroke="#555" stroke-width="0.6"/>
<line x1="188.65" y1="339.39" x2="188.65" y2="340.67" stroke="#555" stroke-width="0.6"/>
<line x1="184.15" y1="339.39" x2="193.15" y2="339.39" stroke="#555" stroke-width="0.6"/>
<line x1="184.15" y1="340.67" x2="193.15" y2="340.67" stroke="#555" stroke-width="0.6"/>
<line x1="142.90" y1="297.11" x2="142.90" y2="393.88" stroke="#383838" stroke-width="1.35"/>
<line x1="138.90" y1="393.20" x2="207.60" y2="393.20" stroke="#383838" stroke-width="1.35"/>
<line x1="138.90" y1="393.20" x2="142.90" y2="393.20" stroke="#383838" stroke-width="1.35"/>
<text font-size="7.92" text-anchor="end" fill="#000" transform="translate(137.50 395.90) scale(0.960 1)">0</text>
<line x1="138.90" y1="361.17" x2="142.90" y2="361.17" stroke="#383838" stroke-width="1.35"/>
<text font-size="7.92" text-anchor="end" fill="#000" transform="translate(137.50 363.87) scale(0.960 1)">5</text>
<line x1="138.90" y1="329.14" x2="142.90" y2="329.14" stroke="#383838" stroke-width="1.35"/>
<text font-size="7.92" text-anchor="end" fill="#000" transform="translate(137.50 331.84) scale(0.960 1)">10</text>
<line x1="138.90" y1="297.11" x2="142.90" y2="297.11" stroke="#383838" stroke-width="1.35"/>
<text font-size="7.92" text-anchor="end" fill="#000" transform="translate(137.50 299.81) scale(0.960 1)">15</text>
<line x1="161.30" y1="393.20" x2="161.30" y2="397.00" stroke="#383838" stroke-width="1.35"/>
<text font-size="8.23" text-anchor="middle" fill="#000" transform="translate(161.30 406.20) scale(0.960 1)">Control</text>
<line x1="188.50" y1="393.20" x2="188.50" y2="397.00" stroke="#383838" stroke-width="1.35"/>
<text font-size="8.23" text-anchor="middle" fill="#000" transform="translate(188.50 406.20) scale(0.960 1)">AD</text>
<text font-size="8.12" text-anchor="start" font-style="italic" fill="#000" transform="translate(155.20 288.70) scale(0.960 1)">EGFR</text>
<text font-size="6.88" text-anchor="start" fill="#000" transform="translate(155.20 297.60) scale(0.960 1)"><tspan font-style="italic">p</tspan> &lt; 0.001</text>
<text font-size="8.33" text-anchor="middle" fill="#000" transform="translate(124.00 345.00) rotate(-90) scale(0.960 1)">Normalized expression</text>
<rect x="274.20" y="352.18" width="17.30" height="38.52" fill="none" stroke="#383838" stroke-width="1.35"/>
<rect x="301.60" y="340.62" width="17.60" height="50.08" fill="none" stroke="#383838" stroke-width="1.35"/>
<circle cx="280.92" cy="319.48" r="1.15" fill="#fff" stroke="#ff4040" stroke-width="0.65"/>
<circle cx="283.51" cy="319.33" r="1.15" fill="#fff" stroke="#ff4040" stroke-width="0.65"/>
<circle cx="281.23" cy="323.93" r="1.15" fill="#fff" stroke="#ff4040" stroke-width="0.65"/>
<circle cx="282.23" cy="326.19" r="1.15" fill="#fff" stroke="#ff4040" stroke-width="0.65"/>
<circle cx="281.25" cy="328.59" r="1.15" fill="#fff" stroke="#ff4040" stroke-width="0.65"/>
<circle cx="284.04" cy="329.03" r="1.15" fill="#fff" stroke="#ff4040" stroke-width="0.65"/>
<circle cx="282.68" cy="335.09" r="1.15" fill="#fff" stroke="#ff4040" stroke-width="0.65"/>
<circle cx="281.16" cy="337.23" r="1.15" fill="#fff" stroke="#ff4040" stroke-width="0.65"/>
<circle cx="282.73" cy="338.58" r="1.15" fill="#fff" stroke="#ff4040" stroke-width="0.65"/>
<circle cx="283.71" cy="340.80" r="1.15" fill="#fff" stroke="#ff4040" stroke-width="0.65"/>
<circle cx="286.44" cy="340.85" r="1.15" fill="#fff" stroke="#ff4040" stroke-width="0.65"/>
<circle cx="284.73" cy="343.24" r="1.15" fill="#fff" stroke="#ff4040" stroke-width="0.65"/>
<circle cx="281.34" cy="345.29" r="1.15" fill="#fff" stroke="#ff4040" stroke-width="0.65"/>
<circle cx="283.88" cy="345.68" r="1.15" fill="#fff" stroke="#ff4040" stroke-width="0.65"/>
<circle cx="286.49" cy="345.21" r="1.15" fill="#fff" stroke="#ff4040" stroke-width="0.65"/>
<circle cx="282.63" cy="347.18" r="1.15" fill="#fff" stroke="#ff4040" stroke-width="0.65"/>
<circle cx="285.28" cy="347.63" r="1.15" fill="#fff" stroke="#ff4040" stroke-width="0.65"/>
<circle cx="277.23" cy="350.69" r="1.15" fill="#fff" stroke="#ff4040" stroke-width="0.65"/>
<circle cx="284.71" cy="350.73" r="1.15" fill="#fff" stroke="#ff4040" stroke-width="0.65"/>
<circle cx="287.51" cy="350.97" r="1.15" fill="#fff" stroke="#ff4040" stroke-width="0.65"/>
<circle cx="289.68" cy="350.39" r="1.15" fill="#fff" stroke="#ff4040" stroke-width="0.65"/>
<circle cx="275.74" cy="352.65" r="1.15" fill="#fff" stroke="#ff4040" stroke-width="0.65"/>
<circle cx="285.79" cy="353.28" r="1.15" fill="#fff" stroke="#ff4040" stroke-width="0.65"/>
<circle cx="277.19" cy="355.21" r="1.15" fill="#fff" stroke="#ff4040" stroke-width="0.65"/>
<circle cx="284.68" cy="354.70" r="1.15" fill="#fff" stroke="#ff4040" stroke-width="0.65"/>
<circle cx="280.84" cy="357.52" r="1.15" fill="#fff" stroke="#ff4040" stroke-width="0.65"/>
<circle cx="288.55" cy="357.31" r="1.15" fill="#fff" stroke="#ff4040" stroke-width="0.65"/>
<circle cx="274.93" cy="359.85" r="1.15" fill="#fff" stroke="#ff4040" stroke-width="0.65"/>
<circle cx="287.10" cy="359.72" r="1.15" fill="#fff" stroke="#ff4040" stroke-width="0.65"/>
<circle cx="289.84" cy="359.41" r="1.15" fill="#fff" stroke="#ff4040" stroke-width="0.65"/>
<circle cx="276.08" cy="361.68" r="1.15" fill="#fff" stroke="#ff4040" stroke-width="0.65"/>
<circle cx="280.71" cy="362.06" r="1.15" fill="#fff" stroke="#ff4040" stroke-width="0.65"/>
<circle cx="283.37" cy="361.63" r="1.15" fill="#fff" stroke="#ff4040" stroke-width="0.65"/>
<circle cx="286.29" cy="361.87" r="1.15" fill="#fff" stroke="#ff4040" stroke-width="0.65"/>
<circle cx="288.52" cy="361.66" r="1.15" fill="#fff" stroke="#ff4040" stroke-width="0.65"/>
<circle cx="274.70" cy="363.63" r="1.15" fill="#fff" stroke="#ff4040" stroke-width="0.65"/>
<circle cx="277.18" cy="363.66" r="1.15" fill="#fff" stroke="#ff4040" stroke-width="0.65"/>
<circle cx="282.04" cy="363.95" r="1.15" fill="#fff" stroke="#ff4040" stroke-width="0.65"/>
<circle cx="289.89" cy="363.77" r="1.15" fill="#fff" stroke="#ff4040" stroke-width="0.65"/>
<circle cx="275.85" cy="365.98" r="1.15" fill="#fff" stroke="#ff4040" stroke-width="0.65"/>
<circle cx="278.48" cy="365.82" r="1.15" fill="#fff" stroke="#ff4040" stroke-width="0.65"/>
<circle cx="280.85" cy="365.86" r="1.15" fill="#fff" stroke="#ff4040" stroke-width="0.65"/>
<circle cx="285.82" cy="366.04" r="1.15" fill="#fff" stroke="#ff4040" stroke-width="0.65"/>
<circle cx="281.18" cy="367.96" r="1.15" fill="#fff" stroke="#ff4040" stroke-width="0.65"/>
<circle cx="286.42" cy="367.85" r="1.15" fill="#fff" stroke="#ff4040" stroke-width="0.65"/>
<circle cx="282.61" cy="370.47" r="1.15" fill="#fff" stroke="#ff4040" stroke-width="0.65"/>
<circle cx="285.02" cy="370.06" r="1.15" fill="#fff" stroke="#ff4040" stroke-width="0.65"/>
<circle cx="278.68" cy="372.43" r="1.15" fill="#fff" stroke="#ff4040" stroke-width="0.65"/>
<circle cx="286.45" cy="372.38" r="1.15" fill="#fff" stroke="#ff4040" stroke-width="0.65"/>
<circle cx="282.50" cy="377.30" r="1.15" fill="#fff" stroke="#ff4040" stroke-width="0.65"/>
<circle cx="282.50" cy="381.90" r="1.15" fill="#fff" stroke="#ff4040" stroke-width="0.65"/>
<circle cx="281.40" cy="383.70" r="1.15" fill="#fff" stroke="#ff4040" stroke-width="0.65"/>
<circle cx="311.17" cy="316.27" r="1.15" fill="#fff" stroke="#40f040" stroke-width="0.65"/>
<circle cx="312.38" cy="318.63" r="1.15" fill="#fff" stroke="#40f040" stroke-width="0.65"/>
<circle cx="304.05" cy="321.90" r="1.15" fill="#fff" stroke="#40f040" stroke-width="0.65"/>
<circle cx="306.60" cy="321.95" r="1.15" fill="#fff" stroke="#40f040" stroke-width="0.65"/>
<circle cx="313.66" cy="322.38" r="1.15" fill="#fff" stroke="#40f040" stroke-width="0.65"/>
<circle cx="316.25" cy="321.87" r="1.15" fill="#fff" stroke="#40f040" stroke-width="0.65"/>
<circle cx="302.42" cy="324.62" r="1.15" fill="#fff" stroke="#40f040" stroke-width="0.65"/>
<circle cx="310.40" cy="324.01" r="1.15" fill="#fff" stroke="#40f040" stroke-width="0.65"/>
<circle cx="314.85" cy="324.00" r="1.15" fill="#fff" stroke="#40f040" stroke-width="0.65"/>
<circle cx="317.81" cy="324.20" r="1.15" fill="#fff" stroke="#40f040" stroke-width="0.65"/>
<circle cx="303.97" cy="326.31" r="1.15" fill="#fff" stroke="#40f040" stroke-width="0.65"/>
<circle cx="306.50" cy="326.84" r="1.15" fill="#fff" stroke="#40f040" stroke-width="0.65"/>
<circle cx="309.11" cy="326.87" r="1.15" fill="#fff" stroke="#40f040" stroke-width="0.65"/>
<circle cx="313.76" cy="326.18" r="1.15" fill="#fff" stroke="#40f040" stroke-width="0.65"/>
<circle cx="302.69" cy="328.66" r="1.15" fill="#fff" stroke="#40f040" stroke-width="0.65"/>
<circle cx="304.98" cy="328.96" r="1.15" fill="#fff" stroke="#40f040" stroke-width="0.65"/>
<circle cx="307.90" cy="329.03" r="1.15" fill="#fff" stroke="#40f040" stroke-width="0.65"/>
<circle cx="310.26" cy="328.33" r="1.15" fill="#fff" stroke="#40f040" stroke-width="0.65"/>
<circle cx="312.62" cy="329.07" r="1.15" fill="#fff" stroke="#40f040" stroke-width="0.65"/>
<circle cx="314.96" cy="328.71" r="1.15" fill="#fff" stroke="#40f040" stroke-width="0.65"/>
<circle cx="317.47" cy="328.59" r="1.15" fill="#fff" stroke="#40f040" stroke-width="0.65"/>
<circle cx="311.64" cy="330.87" r="1.15" fill="#fff" stroke="#40f040" stroke-width="0.65"/>
<circle cx="316.19" cy="331.23" r="1.15" fill="#fff" stroke="#40f040" stroke-width="0.65"/>
<circle cx="302.38" cy="333.10" r="1.15" fill="#fff" stroke="#40f040" stroke-width="0.65"/>
<circle cx="310.45" cy="333.34" r="1.15" fill="#fff" stroke="#40f040" stroke-width="0.65"/>
<circle cx="317.89" cy="333.08" r="1.15" fill="#fff" stroke="#40f040" stroke-width="0.65"/>
<circle cx="306.65" cy="335.28" r="1.15" fill="#fff" stroke="#40f040" stroke-width="0.65"/>
<circle cx="308.95" cy="335.15" r="1.15" fill="#fff" stroke="#40f040" stroke-width="0.65"/>
<circle cx="311.45" cy="335.58" r="1.15" fill="#fff" stroke="#40f040" stroke-width="0.65"/>
<circle cx="314.12" cy="335.53" r="1.15" fill="#fff" stroke="#40f040" stroke-width="0.65"/>
<circle cx="303.95" cy="337.13" r="1.15" fill="#fff" stroke="#40f040" stroke-width="0.65"/>
<circle cx="305.92" cy="336.96" r="1.15" fill="#fff" stroke="#40f040" stroke-width="0.65"/>
<circle cx="308.89" cy="336.77" r="1.15" fill="#fff" stroke="#40f040" stroke-width="0.65"/>
<circle cx="311.18" cy="337.01" r="1.15" fill="#fff" stroke="#40f040" stroke-width="0.65"/>
<circle cx="313.64" cy="337.01" r="1.15" fill="#fff" stroke="#40f040" stroke-width="0.65"/>
<circle cx="304.90" cy="339.35" r="1.15" fill="#fff" stroke="#40f040" stroke-width="0.65"/>
<circle cx="307.20" cy="338.96" r="1.15" fill="#fff" stroke="#40f040" stroke-width="0.65"/>
<circle cx="310.14" cy="338.82" r="1.15" fill="#fff" stroke="#40f040" stroke-width="0.65"/>
<circle cx="312.29" cy="339.11" r="1.15" fill="#fff" stroke="#40f040" stroke-width="0.65"/>
<circle cx="305.87" cy="340.95" r="1.15" fill="#fff" stroke="#40f040" stroke-width="0.65"/>
<circle cx="308.84" cy="341.11" r="1.15" fill="#fff" stroke="#40f040" stroke-width="0.65"/>
<circle cx="313.69" cy="341.39" r="1.15" fill="#fff" stroke="#40f040" stroke-width="0.65"/>
<circle cx="315.95" cy="341.65" r="1.15" fill="#fff" stroke="#40f040" stroke-width="0.65"/>
<circle cx="304.65" cy="343.33" r="1.15" fill="#fff" stroke="#40f040" stroke-width="0.65"/>
<circle cx="309.73" cy="343.32" r="1.15" fill="#fff" stroke="#40f040" stroke-width="0.65"/>
<circle cx="312.54" cy="343.34" r="1.15" fill="#fff" stroke="#40f040" stroke-width="0.65"/>
<circle cx="306.04" cy="346.04" r="1.15" fill="#fff" stroke="#40f040" stroke-width="0.65"/>
<circle cx="311.12" cy="345.59" r="1.15" fill="#fff" stroke="#40f040" stroke-width="0.65"/>
<circle cx="316.04" cy="345.90" r="1.15" fill="#fff" stroke="#40f040" stroke-width="0.65"/>
<circle cx="307.45" cy="348.03" r="1.15" fill="#fff" stroke="#40f040" stroke-width="0.65"/>
<circle cx="312.68" cy="347.66" r="1.15" fill="#fff" stroke="#40f040" stroke-width="0.65"/>
<circle cx="314.68" cy="347.97" r="1.15" fill="#fff" stroke="#40f040" stroke-width="0.65"/>
<circle cx="317.26" cy="347.66" r="1.15" fill="#fff" stroke="#40f040" stroke-width="0.65"/>
<circle cx="306.93" cy="350.57" r="1.15" fill="#fff" stroke="#40f040" stroke-width="0.65"/>
<circle cx="314.41" cy="350.31" r="1.15" fill="#fff" stroke="#40f040" stroke-width="0.65"/>
<circle cx="310.25" cy="352.94" r="1.15" fill="#fff" stroke="#40f040" stroke-width="0.65"/>
<circle cx="313.06" cy="352.57" r="1.15" fill="#fff" stroke="#40f040" stroke-width="0.65"/>
<circle cx="309.17" cy="354.87" r="1.15" fill="#fff" stroke="#40f040" stroke-width="0.65"/>
<circle cx="311.64" cy="355.00" r="1.15" fill="#fff" stroke="#40f040" stroke-width="0.65"/>
<circle cx="314.24" cy="354.86" r="1.15" fill="#fff" stroke="#40f040" stroke-width="0.65"/>
<circle cx="308.01" cy="357.14" r="1.15" fill="#fff" stroke="#40f040" stroke-width="0.65"/>
<circle cx="312.88" cy="356.92" r="1.15" fill="#fff" stroke="#40f040" stroke-width="0.65"/>
<circle cx="306.41" cy="359.60" r="1.15" fill="#fff" stroke="#40f040" stroke-width="0.65"/>
<circle cx="314.27" cy="359.37" r="1.15" fill="#fff" stroke="#40f040" stroke-width="0.65"/>
<circle cx="309.60" cy="364.90" r="1.15" fill="#fff" stroke="#40f040" stroke-width="0.65"/>
<circle cx="310.20" cy="370.80" r="1.15" fill="#fff" stroke="#40f040" stroke-width="0.65"/>
<circle cx="309.60" cy="374.50" r="1.15" fill="#fff" stroke="#40f040" stroke-width="0.65"/>
<circle cx="310.60" cy="376.40" r="1.15" fill="#fff" stroke="#40f040" stroke-width="0.65"/>
<line x1="282.85" y1="350.25" x2="282.85" y2="354.11" stroke="#555" stroke-width="0.6"/>
<line x1="278.35" y1="350.25" x2="287.35" y2="350.25" stroke="#555" stroke-width="0.6"/>
<line x1="278.35" y1="354.11" x2="287.35" y2="354.11" stroke="#555" stroke-width="0.6"/>
<line x1="310.40" y1="339.18" x2="310.40" y2="342.07" stroke="#555" stroke-width="0.6"/>
<line x1="305.90" y1="339.18" x2="314.90" y2="339.18" stroke="#555" stroke-width="0.6"/>
<line x1="305.90" y1="342.07" x2="314.90" y2="342.07" stroke="#555" stroke-width="0.6"/>
<line x1="264.10" y1="294.40" x2="264.10" y2="391.38" stroke="#383838" stroke-width="1.35"/>
<line x1="260.10" y1="390.70" x2="329.90" y2="390.70" stroke="#383838" stroke-width="1.35"/>
<line x1="260.10" y1="390.70" x2="264.10" y2="390.70" stroke="#383838" stroke-width="1.35"/>
<text font-size="7.92" text-anchor="end" fill="#000" transform="translate(258.70 393.40) scale(0.960 1)">0</text>
<line x1="260.10" y1="371.44" x2="264.10" y2="371.44" stroke="#383838" stroke-width="1.35"/>
<text font-size="7.92" text-anchor="end" fill="#000" transform="translate(258.70 374.14) scale(0.960 1)">2</text>
<line x1="260.10" y1="352.18" x2="264.10" y2="352.18" stroke="#383838" stroke-width="1.35"/>
<text font-size="7.92" text-anchor="end" fill="#000" transform="translate(258.70 354.88) scale(0.960 1)">4</text>
<line x1="260.10" y1="332.92" x2="264.10" y2="332.92" stroke="#383838" stroke-width="1.35"/>
<text font-size="7.92" text-anchor="end" fill="#000" transform="translate(258.70 335.62) scale(0.960 1)">6</text>
<line x1="260.10" y1="313.66" x2="264.10" y2="313.66" stroke="#383838" stroke-width="1.35"/>
<text font-size="7.92" text-anchor="end" fill="#000" transform="translate(258.70 316.36) scale(0.960 1)">8</text>
<line x1="260.10" y1="294.40" x2="264.10" y2="294.40" stroke="#383838" stroke-width="1.35"/>
<text font-size="7.92" text-anchor="end" fill="#000" transform="translate(258.70 297.10) scale(0.960 1)">10</text>
<line x1="282.30" y1="390.70" x2="282.30" y2="394.50" stroke="#383838" stroke-width="1.35"/>
<text font-size="8.23" text-anchor="middle" fill="#000" transform="translate(282.30 403.30) scale(0.960 1)">Control</text>
<line x1="310.50" y1="390.70" x2="310.50" y2="394.50" stroke="#383838" stroke-width="1.35"/>
<text font-size="8.23" text-anchor="middle" fill="#000" transform="translate(310.50 403.30) scale(0.960 1)">AD</text>
<text font-size="8.12" text-anchor="start" font-style="italic" fill="#000" transform="translate(274.20 287.90) scale(0.960 1)">SLC2A1</text>
<text font-size="6.88" text-anchor="start" fill="#000" transform="translate(274.20 296.80) scale(0.960 1)"><tspan font-style="italic">p</tspan> &lt; 0.001</text>
<text font-size="8.33" text-anchor="middle" fill="#000" transform="translate(245.30 342.00) rotate(-90) scale(0.960 1)">Normalized expression</text>
<rect x="395.50" y="332.10" width="17.70" height="58.80" fill="none" stroke="#383838" stroke-width="1.35"/>
<rect x="423.30" y="320.82" width="17.70" height="70.08" fill="none" stroke="#383838" stroke-width="1.35"/>
<circle cx="403.10" cy="311.66" r="1.15" fill="#fff" stroke="#ff4040" stroke-width="0.65"/>
<circle cx="399.18" cy="315.60" r="1.15" fill="#fff" stroke="#ff4040" stroke-width="0.65"/>
<circle cx="401.76" cy="315.66" r="1.15" fill="#fff" stroke="#ff4040" stroke-width="0.65"/>
<circle cx="406.63" cy="315.87" r="1.15" fill="#fff" stroke="#ff4040" stroke-width="0.65"/>
<circle cx="409.16" cy="315.65" r="1.15" fill="#fff" stroke="#ff4040" stroke-width="0.65"/>
<circle cx="397.76" cy="317.65" r="1.15" fill="#fff" stroke="#ff4040" stroke-width="0.65"/>
<circle cx="400.13" cy="317.77" r="1.15" fill="#fff" stroke="#ff4040" stroke-width="0.65"/>
<circle cx="405.37" cy="317.96" r="1.15" fill="#fff" stroke="#ff4040" stroke-width="0.65"/>
<circle cx="410.48" cy="317.71" r="1.15" fill="#fff" stroke="#ff4040" stroke-width="0.65"/>
<circle cx="396.74" cy="319.89" r="1.15" fill="#fff" stroke="#ff4040" stroke-width="0.65"/>
<circle cx="398.85" cy="320.20" r="1.15" fill="#fff" stroke="#ff4040" stroke-width="0.65"/>
<circle cx="401.53" cy="319.61" r="1.15" fill="#fff" stroke="#ff4040" stroke-width="0.65"/>
<circle cx="404.20" cy="320.23" r="1.15" fill="#fff" stroke="#ff4040" stroke-width="0.65"/>
<circle cx="408.90" cy="319.70" r="1.15" fill="#fff" stroke="#ff4040" stroke-width="0.65"/>
<circle cx="397.68" cy="322.35" r="1.15" fill="#fff" stroke="#ff4040" stroke-width="0.65"/>
<circle cx="402.74" cy="322.57" r="1.15" fill="#fff" stroke="#ff4040" stroke-width="0.65"/>
<circle cx="405.21" cy="322.41" r="1.15" fill="#fff" stroke="#ff4040" stroke-width="0.65"/>
<circle cx="407.94" cy="322.09" r="1.15" fill="#fff" stroke="#ff4040" stroke-width="0.65"/>
<circle cx="410.35" cy="322.22" r="1.15" fill="#fff" stroke="#ff4040" stroke-width="0.65"/>
<circle cx="396.87" cy="324.06" r="1.15" fill="#fff" stroke="#ff4040" stroke-width="0.65"/>
<circle cx="399.41" cy="324.49" r="1.15" fill="#fff" stroke="#ff4040" stroke-width="0.65"/>
<circle cx="401.73" cy="324.19" r="1.15" fill="#fff" stroke="#ff4040" stroke-width="0.65"/>
<circle cx="403.98" cy="324.12" r="1.15" fill="#fff" stroke="#ff4040" stroke-width="0.65"/>
<circle cx="409.38" cy="324.00" r="1.15" fill="#fff" stroke="#ff4040" stroke-width="0.65"/>
<circle cx="411.53" cy="324.40" r="1.15" fill="#fff" stroke="#ff4040" stroke-width="0.65"/>
<circle cx="397.62" cy="326.50" r="1.15" fill="#fff" stroke="#ff4040" stroke-width="0.65"/>
<circle cx="400.62" cy="326.61" r="1.15" fill="#fff" stroke="#ff4040" stroke-width="0.65"/>
<circle cx="402.96" cy="326.67" r="1.15" fill="#fff" stroke="#ff4040" stroke-width="0.65"/>
<circle cx="405.43" cy="326.42" r="1.15" fill="#fff" stroke="#ff4040" stroke-width="0.65"/>
<circle cx="407.79" cy="326.27" r="1.15" fill="#fff" stroke="#ff4040" stroke-width="0.65"/>
<circle cx="410.40" cy="326.90" r="1.15" fill="#fff" stroke="#ff4040" stroke-width="0.65"/>
<circle cx="396.80" cy="329.19" r="1.15" fill="#fff" stroke="#ff4040" stroke-width="0.65"/>
<circle cx="399.07" cy="328.58" r="1.15" fill="#fff" stroke="#ff4040" stroke-width="0.65"/>
<circle cx="401.66" cy="328.81" r="1.15" fill="#fff" stroke="#ff4040" stroke-width="0.65"/>
<circle cx="404.40" cy="329.18" r="1.15" fill="#fff" stroke="#ff4040" stroke-width="0.65"/>
<circle cx="406.35" cy="328.45" r="1.15" fill="#fff" stroke="#ff4040" stroke-width="0.65"/>
<circle cx="409.36" cy="328.45" r="1.15" fill="#fff" stroke="#ff4040" stroke-width="0.65"/>
<circle cx="411.67" cy="328.67" r="1.15" fill="#fff" stroke="#ff4040" stroke-width="0.65"/>
<circle cx="400.61" cy="329.87" r="1.15" fill="#fff" stroke="#ff4040" stroke-width="0.65"/>
<circle cx="403.28" cy="330.14" r="1.15" fill="#fff" stroke="#ff4040" stroke-width="0.65"/>
<circle cx="405.74" cy="329.87" r="1.15" fill="#fff" stroke="#ff4040" stroke-width="0.65"/>
<circle cx="399.68" cy="332.26" r="1.15" fill="#fff" stroke="#ff4040" stroke-width="0.65"/>
<circle cx="402.09" cy="331.91" r="1.15" fill="#fff" stroke="#ff4040" stroke-width="0.65"/>
<circle cx="404.73" cy="332.51" r="1.15" fill="#fff" stroke="#ff4040" stroke-width="0.65"/>
<circle cx="406.96" cy="332.62" r="1.15" fill="#fff" stroke="#ff4040" stroke-width="0.65"/>
<circle cx="401.08" cy="334.80" r="1.15" fill="#fff" stroke="#ff4040" stroke-width="0.65"/>
<circle cx="403.60" cy="334.22" r="1.15" fill="#fff" stroke="#ff4040" stroke-width="0.65"/>
<circle cx="405.77" cy="334.38" r="1.15" fill="#fff" stroke="#ff4040" stroke-width="0.65"/>
<circle cx="408.37" cy="334.73" r="1.15" fill="#fff" stroke="#ff4040" stroke-width="0.65"/>
<circle cx="399.42" cy="336.46" r="1.15" fill="#fff" stroke="#ff4040" stroke-width="0.65"/>
<circle cx="401.92" cy="337.06" r="1.15" fill="#fff" stroke="#ff4040" stroke-width="0.65"/>
<circle cx="407.02" cy="336.50" r="1.15" fill="#fff" stroke="#ff4040" stroke-width="0.65"/>
<circle cx="400.75" cy="338.53" r="1.15" fill="#fff" stroke="#ff4040" stroke-width="0.65"/>
<circle cx="403.22" cy="338.78" r="1.15" fill="#fff" stroke="#ff4040" stroke-width="0.65"/>
<circle cx="406.12" cy="339.03" r="1.15" fill="#fff" stroke="#ff4040" stroke-width="0.65"/>
<circle cx="408.62" cy="338.81" r="1.15" fill="#fff" stroke="#ff4040" stroke-width="0.65"/>
<circle cx="402.50" cy="340.76" r="1.15" fill="#fff" stroke="#ff4040" stroke-width="0.65"/>
<circle cx="406.17" cy="342.36" r="1.15" fill="#fff" stroke="#ff4040" stroke-width="0.65"/>
<circle cx="406.62" cy="352.98" r="1.15" fill="#fff" stroke="#ff4040" stroke-width="0.65"/>
<circle cx="402.88" cy="354.91" r="1.15" fill="#fff" stroke="#ff4040" stroke-width="0.65"/>
<circle cx="405.20" cy="355.35" r="1.15" fill="#fff" stroke="#ff4040" stroke-width="0.65"/>
<circle cx="404.40" cy="308.30" r="1.15" fill="#fff" stroke="#ff4040" stroke-width="0.65"/>
<circle cx="404.40" cy="361.20" r="1.15" fill="#fff" stroke="#ff4040" stroke-width="0.65"/>
<circle cx="404.40" cy="364.30" r="1.15" fill="#fff" stroke="#ff4040" stroke-width="0.65"/>
<circle cx="404.40" cy="367.40" r="1.15" fill="#fff" stroke="#ff4040" stroke-width="0.65"/>
<circle cx="404.40" cy="371.60" r="1.15" fill="#fff" stroke="#ff4040" stroke-width="0.65"/>
<circle cx="404.40" cy="376.80" r="1.15" fill="#fff" stroke="#ff4040" stroke-width="0.65"/>
<circle cx="404.40" cy="383.00" r="1.15" fill="#fff" stroke="#ff4040" stroke-width="0.65"/>
<circle cx="431.94" cy="306.27" r="1.15" fill="#fff" stroke="#40f040" stroke-width="0.65"/>
<circle cx="434.43" cy="305.96" r="1.15" fill="#fff" stroke="#40f040" stroke-width="0.65"/>
<circle cx="430.74" cy="308.62" r="1.15" fill="#fff" stroke="#40f040" stroke-width="0.65"/>
<circle cx="433.61" cy="308.35" r="1.15" fill="#fff" stroke="#40f040" stroke-width="0.65"/>
<circle cx="424.68" cy="310.71" r="1.15" fill="#fff" stroke="#40f040" stroke-width="0.65"/>
<circle cx="429.76" cy="310.06" r="1.15" fill="#fff" stroke="#40f040" stroke-width="0.65"/>
<circle cx="432.17" cy="310.79" r="1.15" fill="#fff" stroke="#40f040" stroke-width="0.65"/>
<circle cx="434.46" cy="310.28" r="1.15" fill="#fff" stroke="#40f040" stroke-width="0.65"/>
<circle cx="439.87" cy="310.69" r="1.15" fill="#fff" stroke="#40f040" stroke-width="0.65"/>
<circle cx="425.98" cy="312.73" r="1.15" fill="#fff" stroke="#40f040" stroke-width="0.65"/>
<circle cx="428.17" cy="312.96" r="1.15" fill="#fff" stroke="#40f040" stroke-width="0.65"/>
<circle cx="430.76" cy="312.69" r="1.15" fill="#fff" stroke="#40f040" stroke-width="0.65"/>
<circle cx="435.75" cy="312.88" r="1.15" fill="#fff" stroke="#40f040" stroke-width="0.65"/>
<circle cx="438.34" cy="312.49" r="1.15" fill="#fff" stroke="#40f040" stroke-width="0.65"/>
<circle cx="424.92" cy="314.96" r="1.15" fill="#fff" stroke="#40f040" stroke-width="0.65"/>
<circle cx="426.91" cy="314.51" r="1.15" fill="#fff" stroke="#40f040" stroke-width="0.65"/>
<circle cx="429.88" cy="314.51" r="1.15" fill="#fff" stroke="#40f040" stroke-width="0.65"/>
<circle cx="432.04" cy="314.81" r="1.15" fill="#fff" stroke="#40f040" stroke-width="0.65"/>
<circle cx="437.39" cy="314.83" r="1.15" fill="#fff" stroke="#40f040" stroke-width="0.65"/>
<circle cx="439.87" cy="314.86" r="1.15" fill="#fff" stroke="#40f040" stroke-width="0.65"/>
<circle cx="425.91" cy="316.88" r="1.15" fill="#fff" stroke="#40f040" stroke-width="0.65"/>
<circle cx="428.14" cy="316.76" r="1.15" fill="#fff" stroke="#40f040" stroke-width="0.65"/>
<circle cx="430.68" cy="316.77" r="1.15" fill="#fff" stroke="#40f040" stroke-width="0.65"/>
<circle cx="433.32" cy="316.64" r="1.15" fill="#fff" stroke="#40f040" stroke-width="0.65"/>
<circle cx="435.97" cy="317.14" r="1.15" fill="#fff" stroke="#40f040" stroke-width="0.65"/>
<circle cx="424.74" cy="318.96" r="1.15" fill="#fff" stroke="#40f040" stroke-width="0.65"/>
<circle cx="427.20" cy="319.47" r="1.15" fill="#fff" stroke="#40f040" stroke-width="0.65"/>
<circle cx="429.94" cy="318.81" r="1.15" fill="#fff" stroke="#40f040" stroke-width="0.65"/>
<circle cx="432.14" cy="318.83" r="1.15" fill="#fff" stroke="#40f040" stroke-width="0.65"/>
<circle cx="434.57" cy="319.25" r="1.15" fill="#fff" stroke="#40f040" stroke-width="0.65"/>
<circle cx="436.89" cy="319.06" r="1.15" fill="#fff" stroke="#40f040" stroke-width="0.65"/>
<circle cx="439.69" cy="319.60" r="1.15" fill="#fff" stroke="#40f040" stroke-width="0.65"/>
<circle cx="428.13" cy="321.86" r="1.15" fill="#fff" stroke="#40f040" stroke-width="0.65"/>
<circle cx="430.35" cy="321.46" r="1.15" fill="#fff" stroke="#40f040" stroke-width="0.65"/>
<circle cx="433.00" cy="322.09" r="1.15" fill="#fff" stroke="#40f040" stroke-width="0.65"/>
<circle cx="435.21" cy="321.66" r="1.15" fill="#fff" stroke="#40f040" stroke-width="0.65"/>
<circle cx="438.10" cy="321.60" r="1.15" fill="#fff" stroke="#40f040" stroke-width="0.65"/>
<circle cx="426.64" cy="324.36" r="1.15" fill="#fff" stroke="#40f040" stroke-width="0.65"/>
<circle cx="429.23" cy="323.64" r="1.15" fill="#fff" stroke="#40f040" stroke-width="0.65"/>
<circle cx="431.91" cy="323.77" r="1.15" fill="#fff" stroke="#40f040" stroke-width="0.65"/>
<circle cx="434.24" cy="324.05" r="1.15" fill="#fff" stroke="#40f040" stroke-width="0.65"/>
<circle cx="436.72" cy="324.14" r="1.15" fill="#fff" stroke="#40f040" stroke-width="0.65"/>
<circle cx="427.81" cy="326.12" r="1.15" fill="#fff" stroke="#40f040" stroke-width="0.65"/>
<circle cx="430.44" cy="326.50" r="1.15" fill="#fff" stroke="#40f040" stroke-width="0.65"/>
<circle cx="432.87" cy="326.47" r="1.15" fill="#fff" stroke="#40f040" stroke-width="0.65"/>
<circle cx="438.04" cy="326.00" r="1.15" fill="#fff" stroke="#40f040" stroke-width="0.65"/>
<circle cx="426.37" cy="328.41" r="1.15" fill="#fff" stroke="#40f040" stroke-width="0.65"/>
<circle cx="429.27" cy="328.73" r="1.15" fill="#fff" stroke="#40f040" stroke-width="0.65"/>
<circle cx="431.69" cy="328.40" r="1.15" fill="#fff" stroke="#40f040" stroke-width="0.65"/>
<circle cx="434.18" cy="328.45" r="1.15" fill="#fff" stroke="#40f040" stroke-width="0.65"/>
<circle cx="436.45" cy="328.47" r="1.15" fill="#fff" stroke="#40f040" stroke-width="0.65"/>
<circle cx="428.04" cy="330.86" r="1.15" fill="#fff" stroke="#40f040" stroke-width="0.65"/>
<circle cx="430.51" cy="330.73" r="1.15" fill="#fff" stroke="#40f040" stroke-width="0.65"/>
<circle cx="432.65" cy="330.81" r="1.15" fill="#fff" stroke="#40f040" stroke-width="0.65"/>
<circle cx="435.20" cy="330.55" r="1.15" fill="#fff" stroke="#40f040" stroke-width="0.65"/>
<circle cx="438.17" cy="330.65" r="1.15" fill="#fff" stroke="#40f040" stroke-width="0.65"/>
<circle cx="433.14" cy="331.81" r="1.15" fill="#fff" stroke="#40f040" stroke-width="0.65"/>
<circle cx="432.50" cy="301.00" r="1.15" fill="#fff" stroke="#40f040" stroke-width="0.65"/>
<circle cx="431.80" cy="337.30" r="1.15" fill="#fff" stroke="#40f040" stroke-width="0.65"/>
<circle cx="432.50" cy="357.70" r="1.15" fill="#fff" stroke="#40f040" stroke-width="0.65"/>
<line x1="404.35" y1="330.17" x2="404.35" y2="334.02" stroke="#555" stroke-width="0.6"/>
<line x1="399.85" y1="330.17" x2="408.85" y2="330.17" stroke="#555" stroke-width="0.6"/>
<line x1="399.85" y1="334.02" x2="408.85" y2="334.02" stroke="#555" stroke-width="0.6"/>
<line x1="432.15" y1="319.85" x2="432.15" y2="321.78" stroke="#555" stroke-width="0.6"/>
<line x1="427.65" y1="319.85" x2="436.65" y2="319.85" stroke="#555" stroke-width="0.6"/>
<line x1="427.65" y1="321.78" x2="436.65" y2="321.78" stroke="#555" stroke-width="0.6"/>
<line x1="386.50" y1="294.50" x2="386.50" y2="391.57" stroke="#383838" stroke-width="1.35"/>
<line x1="382.50" y1="390.90" x2="451.10" y2="390.90" stroke="#383838" stroke-width="1.35"/>
<line x1="382.50" y1="390.90" x2="386.50" y2="390.90" stroke="#383838" stroke-width="1.35"/>
<text font-size="7.92" text-anchor="end" fill="#000" transform="translate(381.10 393.60) scale(0.960 1)">0</text>
<line x1="382.50" y1="371.62" x2="386.50" y2="371.62" stroke="#383838" stroke-width="1.35"/>
<text font-size="7.92" text-anchor="end" fill="#000" transform="translate(381.10 374.32) scale(0.960 1)">2</text>
<line x1="382.50" y1="352.34" x2="386.50" y2="352.34" stroke="#383838" stroke-width="1.35"/>
<text font-size="7.92" text-anchor="end" fill="#000" transform="translate(381.10 355.04) scale(0.960 1)">4</text>
<line x1="382.50" y1="333.06" x2="386.50" y2="333.06" stroke="#383838" stroke-width="1.35"/>
<text font-size="7.92" text-anchor="end" fill="#000" transform="translate(381.10 335.76) scale(0.960 1)">6</text>
<line x1="382.50" y1="313.78" x2="386.50" y2="313.78" stroke="#383838" stroke-width="1.35"/>
<text font-size="7.92" text-anchor="end" fill="#000" transform="translate(381.10 316.48) scale(0.960 1)">8</text>
<line x1="382.50" y1="294.50" x2="386.50" y2="294.50" stroke="#383838" stroke-width="1.35"/>
<text font-size="7.92" text-anchor="end" fill="#000" transform="translate(381.10 297.20) scale(0.960 1)">10</text>
<line x1="404.40" y1="390.90" x2="404.40" y2="394.70" stroke="#383838" stroke-width="1.35"/>
<text font-size="8.23" text-anchor="middle" fill="#000" transform="translate(404.40 403.30) scale(0.960 1)">Control</text>
<line x1="432.30" y1="390.90" x2="432.30" y2="394.70" stroke="#383838" stroke-width="1.35"/>
<text font-size="8.23" text-anchor="middle" fill="#000" transform="translate(432.30 403.30) scale(0.960 1)">AD</text>
<text font-size="8.12" text-anchor="start" font-style="italic" fill="#000" transform="translate(396.80 282.60) scale(0.960 1)">PPARA</text>
<text font-size="6.88" text-anchor="start" fill="#000" transform="translate(396.50 291.30) scale(0.960 1)"><tspan font-style="italic">p</tspan> &lt; 0.001</text>
<text font-size="8.33" text-anchor="middle" fill="#000" transform="translate(367.00 342.00) rotate(-90) scale(0.960 1)">Normalized expression</text>
<rect x="513.50" y="340.23" width="17.80" height="49.97" fill="none" stroke="#383838" stroke-width="1.35"/>
<rect x="541.00" y="353.24" width="17.70" height="36.96" fill="none" stroke="#383838" stroke-width="1.35"/>
<circle cx="513.90" cy="313.50" r="1.15" fill="#fff" stroke="#ff4040" stroke-width="0.65"/>
<circle cx="513.90" cy="319.70" r="1.15" fill="#fff" stroke="#ff4040" stroke-width="0.65"/>
<circle cx="513.90" cy="321.30" r="1.15" fill="#fff" stroke="#ff4040" stroke-width="0.65"/>
<circle cx="513.90" cy="322.80" r="1.15" fill="#fff" stroke="#ff4040" stroke-width="0.65"/>
<circle cx="513.90" cy="324.40" r="1.15" fill="#fff" stroke="#ff4040" stroke-width="0.65"/>
<circle cx="513.90" cy="325.40" r="1.15" fill="#fff" stroke="#ff4040" stroke-width="0.65"/>
<circle cx="513.90" cy="330.60" r="1.15" fill="#fff" stroke="#ff4040" stroke-width="0.65"/>
<circle cx="518.10" cy="304.10" r="1.15" fill="#fff" stroke="#ff4040" stroke-width="0.65"/>
<circle cx="518.10" cy="315.60" r="1.15" fill="#fff" stroke="#ff4040" stroke-width="0.65"/>
<circle cx="518.10" cy="320.20" r="1.15" fill="#fff" stroke="#ff4040" stroke-width="0.65"/>
<circle cx="518.10" cy="324.40" r="1.15" fill="#fff" stroke="#ff4040" stroke-width="0.65"/>
<circle cx="518.10" cy="325.40" r="1.15" fill="#fff" stroke="#ff4040" stroke-width="0.65"/>
<circle cx="518.10" cy="327.50" r="1.15" fill="#fff" stroke="#ff4040" stroke-width="0.65"/>
<circle cx="518.10" cy="330.10" r="1.15" fill="#fff" stroke="#ff4040" stroke-width="0.65"/>
<circle cx="518.10" cy="331.10" r="1.15" fill="#fff" stroke="#ff4040" stroke-width="0.65"/>
<circle cx="518.10" cy="332.70" r="1.15" fill="#fff" stroke="#ff4040" stroke-width="0.65"/>
<circle cx="518.10" cy="334.20" r="1.15" fill="#fff" stroke="#ff4040" stroke-width="0.65"/>
<circle cx="518.10" cy="336.30" r="1.15" fill="#fff" stroke="#ff4040" stroke-width="0.65"/>
<circle cx="522.20" cy="305.20" r="1.15" fill="#fff" stroke="#ff4040" stroke-width="0.65"/>
<circle cx="522.20" cy="308.30" r="1.15" fill="#fff" stroke="#ff4040" stroke-width="0.65"/>
<circle cx="522.20" cy="314.00" r="1.15" fill="#fff" stroke="#ff4040" stroke-width="0.65"/>
<circle cx="522.20" cy="315.60" r="1.15" fill="#fff" stroke="#ff4040" stroke-width="0.65"/>
<circle cx="522.20" cy="317.10" r="1.15" fill="#fff" stroke="#ff4040" stroke-width="0.65"/>
<circle cx="522.20" cy="319.70" r="1.15" fill="#fff" stroke="#ff4040" stroke-width="0.65"/>
<circle cx="522.20" cy="321.30" r="1.15" fill="#fff" stroke="#ff4040" stroke-width="0.65"/>
<circle cx="522.20" cy="322.80" r="1.15" fill="#fff" stroke="#ff4040" stroke-width="0.65"/>
<circle cx="522.20" cy="324.90" r="1.15" fill="#fff" stroke="#ff4040" stroke-width="0.65"/>
<circle cx="522.20" cy="328.00" r="1.15" fill="#fff" stroke="#ff4040" stroke-width="0.65"/>
<circle cx="522.20" cy="329.00" r="1.15" fill="#fff" stroke="#ff4040" stroke-width="0.65"/>
<circle cx="522.20" cy="330.60" r="1.15" fill="#fff" stroke="#ff4040" stroke-width="0.65"/>
<circle cx="522.20" cy="333.70" r="1.15" fill="#fff" stroke="#ff4040" stroke-width="0.65"/>
<circle cx="522.20" cy="335.30" r="1.15" fill="#fff" stroke="#ff4040" stroke-width="0.65"/>
<circle cx="522.20" cy="336.80" r="1.15" fill="#fff" stroke="#ff4040" stroke-width="0.65"/>
<circle cx="522.20" cy="339.90" r="1.15" fill="#fff" stroke="#ff4040" stroke-width="0.65"/>
<circle cx="522.20" cy="341.50" r="1.15" fill="#fff" stroke="#ff4040" stroke-width="0.65"/>
<circle cx="526.40" cy="302.90" r="1.15" fill="#fff" stroke="#ff4040" stroke-width="0.65"/>
<circle cx="526.40" cy="311.90" r="1.15" fill="#fff" stroke="#ff4040" stroke-width="0.65"/>
<circle cx="526.40" cy="314.00" r="1.15" fill="#fff" stroke="#ff4040" stroke-width="0.65"/>
<circle cx="526.40" cy="316.10" r="1.15" fill="#fff" stroke="#ff4040" stroke-width="0.65"/>
<circle cx="526.40" cy="317.60" r="1.15" fill="#fff" stroke="#ff4040" stroke-width="0.65"/>
<circle cx="526.40" cy="321.80" r="1.15" fill="#fff" stroke="#ff4040" stroke-width="0.65"/>
<circle cx="526.40" cy="323.30" r="1.15" fill="#fff" stroke="#ff4040" stroke-width="0.65"/>
<circle cx="526.40" cy="324.90" r="1.15" fill="#fff" stroke="#ff4040" stroke-width="0.65"/>
<circle cx="526.40" cy="330.10" r="1.15" fill="#fff" stroke="#ff4040" stroke-width="0.65"/>
<circle cx="526.40" cy="334.20" r="1.15" fill="#fff" stroke="#ff4040" stroke-width="0.65"/>
<circle cx="526.40" cy="336.80" r="1.15" fill="#fff" stroke="#ff4040" stroke-width="0.65"/>
<circle cx="526.40" cy="339.90" r="1.15" fill="#fff" stroke="#ff4040" stroke-width="0.65"/>
<circle cx="530.50" cy="313.00" r="1.15" fill="#fff" stroke="#ff4040" stroke-width="0.65"/>
<circle cx="530.50" cy="315.60" r="1.15" fill="#fff" stroke="#ff4040" stroke-width="0.65"/>
<circle cx="530.50" cy="324.90" r="1.15" fill="#fff" stroke="#ff4040" stroke-width="0.65"/>
<circle cx="530.50" cy="329.60" r="1.15" fill="#fff" stroke="#ff4040" stroke-width="0.65"/>
<circle cx="530.50" cy="334.20" r="1.15" fill="#fff" stroke="#ff4040" stroke-width="0.65"/>
<circle cx="514.00" cy="345.20" r="1.15" fill="#fff" stroke="#ff4040" stroke-width="0.65"/>
<circle cx="518.10" cy="346.90" r="1.15" fill="#fff" stroke="#ff4040" stroke-width="0.65"/>
<circle cx="518.10" cy="348.60" r="1.15" fill="#fff" stroke="#ff4040" stroke-width="0.65"/>
<circle cx="522.10" cy="347.50" r="1.15" fill="#fff" stroke="#ff4040" stroke-width="0.65"/>
<circle cx="526.70" cy="346.90" r="1.15" fill="#fff" stroke="#ff4040" stroke-width="0.65"/>
<circle cx="530.50" cy="348.30" r="1.15" fill="#fff" stroke="#ff4040" stroke-width="0.65"/>
<circle cx="520.10" cy="343.50" r="1.15" fill="#fff" stroke="#ff4040" stroke-width="0.65"/>
<circle cx="524.40" cy="343.50" r="1.15" fill="#fff" stroke="#ff4040" stroke-width="0.65"/>
<circle cx="522.10" cy="350.90" r="1.15" fill="#fff" stroke="#ff4040" stroke-width="0.65"/>
<circle cx="515.80" cy="353.20" r="1.15" fill="#fff" stroke="#ff4040" stroke-width="0.65"/>
<circle cx="520.10" cy="353.20" r="1.15" fill="#fff" stroke="#ff4040" stroke-width="0.65"/>
<circle cx="524.40" cy="353.20" r="1.15" fill="#fff" stroke="#ff4040" stroke-width="0.65"/>
<circle cx="528.40" cy="353.20" r="1.15" fill="#fff" stroke="#ff4040" stroke-width="0.65"/>
<circle cx="520.10" cy="356.70" r="1.15" fill="#fff" stroke="#ff4040" stroke-width="0.65"/>
<circle cx="524.40" cy="356.70" r="1.15" fill="#fff" stroke="#ff4040" stroke-width="0.65"/>
<circle cx="522.10" cy="359.60" r="1.15" fill="#fff" stroke="#ff4040" stroke-width="0.65"/>
<circle cx="522.10" cy="361.30" r="1.15" fill="#fff" stroke="#ff4040" stroke-width="0.65"/>
<circle cx="526.70" cy="361.30" r="1.15" fill="#fff" stroke="#ff4040" stroke-width="0.65"/>
<circle cx="522.10" cy="362.50" r="1.15" fill="#fff" stroke="#ff4040" stroke-width="0.65"/>
<circle cx="514.00" cy="364.80" r="1.15" fill="#fff" stroke="#ff4040" stroke-width="0.65"/>
<circle cx="518.10" cy="364.20" r="1.15" fill="#fff" stroke="#ff4040" stroke-width="0.65"/>
<circle cx="522.10" cy="366.50" r="1.15" fill="#fff" stroke="#ff4040" stroke-width="0.65"/>
<circle cx="526.70" cy="364.80" r="1.15" fill="#fff" stroke="#ff4040" stroke-width="0.65"/>
<circle cx="530.50" cy="365.10" r="1.15" fill="#fff" stroke="#ff4040" stroke-width="0.65"/>
<circle cx="514.00" cy="370.20" r="1.15" fill="#fff" stroke="#ff4040" stroke-width="0.65"/>
<circle cx="518.10" cy="370.20" r="1.15" fill="#fff" stroke="#ff4040" stroke-width="0.65"/>
<circle cx="518.10" cy="371.70" r="1.15" fill="#fff" stroke="#ff4040" stroke-width="0.65"/>
<circle cx="518.10" cy="373.20" r="1.15" fill="#fff" stroke="#ff4040" stroke-width="0.65"/>
<circle cx="522.10" cy="369.70" r="1.15" fill="#fff" stroke="#ff4040" stroke-width="0.65"/>
<circle cx="526.70" cy="369.70" r="1.15" fill="#fff" stroke="#ff4040" stroke-width="0.65"/>
<circle cx="530.50" cy="371.10" r="1.15" fill="#fff" stroke="#ff4040" stroke-width="0.65"/>
<circle cx="522.10" cy="374.00" r="1.15" fill="#fff" stroke="#ff4040" stroke-width="0.65"/>
<circle cx="526.70" cy="374.00" r="1.15" fill="#fff" stroke="#ff4040" stroke-width="0.65"/>
<circle cx="522.10" cy="387.00" r="1.15" fill="#fff" stroke="#ff4040" stroke-width="0.65"/>
<circle cx="544.18" cy="332.45" r="1.15" fill="#fff" stroke="#40f040" stroke-width="0.65"/>
<circle cx="546.46" cy="333.19" r="1.15" fill="#fff" stroke="#40f040" stroke-width="0.65"/>
<circle cx="551.31" cy="333.19" r="1.15" fill="#fff" stroke="#40f040" stroke-width="0.65"/>
<circle cx="553.76" cy="333.13" r="1.15" fill="#fff" stroke="#40f040" stroke-width="0.65"/>
<circle cx="547.08" cy="336.54" r="1.15" fill="#fff" stroke="#40f040" stroke-width="0.65"/>
<circle cx="549.67" cy="336.54" r="1.15" fill="#fff" stroke="#40f040" stroke-width="0.65"/>
<circle cx="552.27" cy="336.86" r="1.15" fill="#fff" stroke="#40f040" stroke-width="0.65"/>
<circle cx="546.12" cy="338.53" r="1.15" fill="#fff" stroke="#40f040" stroke-width="0.65"/>
<circle cx="548.15" cy="339.09" r="1.15" fill="#fff" stroke="#40f040" stroke-width="0.65"/>
<circle cx="550.88" cy="338.82" r="1.15" fill="#fff" stroke="#40f040" stroke-width="0.65"/>
<circle cx="553.52" cy="338.65" r="1.15" fill="#fff" stroke="#40f040" stroke-width="0.65"/>
<circle cx="549.90" cy="340.54" r="1.15" fill="#fff" stroke="#40f040" stroke-width="0.65"/>
<circle cx="551.96" cy="340.81" r="1.15" fill="#fff" stroke="#40f040" stroke-width="0.65"/>
<circle cx="545.76" cy="343.06" r="1.15" fill="#fff" stroke="#40f040" stroke-width="0.65"/>
<circle cx="550.77" cy="343.48" r="1.15" fill="#fff" stroke="#40f040" stroke-width="0.65"/>
<circle cx="553.38" cy="343.43" r="1.15" fill="#fff" stroke="#40f040" stroke-width="0.65"/>
<circle cx="547.00" cy="345.38" r="1.15" fill="#fff" stroke="#40f040" stroke-width="0.65"/>
<circle cx="549.87" cy="345.35" r="1.15" fill="#fff" stroke="#40f040" stroke-width="0.65"/>
<circle cx="551.94" cy="345.64" r="1.15" fill="#fff" stroke="#40f040" stroke-width="0.65"/>
<circle cx="546.16" cy="347.45" r="1.15" fill="#fff" stroke="#40f040" stroke-width="0.65"/>
<circle cx="550.68" cy="347.47" r="1.15" fill="#fff" stroke="#40f040" stroke-width="0.65"/>
<circle cx="547.20" cy="349.43" r="1.15" fill="#fff" stroke="#40f040" stroke-width="0.65"/>
<circle cx="549.66" cy="350.01" r="1.15" fill="#fff" stroke="#40f040" stroke-width="0.65"/>
<circle cx="552.19" cy="349.42" r="1.15" fill="#fff" stroke="#40f040" stroke-width="0.65"/>
<circle cx="546.23" cy="351.99" r="1.15" fill="#fff" stroke="#40f040" stroke-width="0.65"/>
<circle cx="548.64" cy="351.67" r="1.15" fill="#fff" stroke="#40f040" stroke-width="0.65"/>
<circle cx="551.18" cy="351.58" r="1.15" fill="#fff" stroke="#40f040" stroke-width="0.65"/>
<circle cx="553.18" cy="351.62" r="1.15" fill="#fff" stroke="#40f040" stroke-width="0.65"/>
<circle cx="545.59" cy="353.32" r="1.15" fill="#fff" stroke="#40f040" stroke-width="0.65"/>
<circle cx="548.19" cy="353.46" r="1.15" fill="#fff" stroke="#40f040" stroke-width="0.65"/>
<circle cx="550.58" cy="353.56" r="1.15" fill="#fff" stroke="#40f040" stroke-width="0.65"/>
<circle cx="553.35" cy="353.24" r="1.15" fill="#fff" stroke="#40f040" stroke-width="0.65"/>
<circle cx="544.42" cy="355.67" r="1.15" fill="#fff" stroke="#40f040" stroke-width="0.65"/>
<circle cx="546.97" cy="355.55" r="1.15" fill="#fff" stroke="#40f040" stroke-width="0.65"/>
<circle cx="549.72" cy="355.75" r="1.15" fill="#fff" stroke="#40f040" stroke-width="0.65"/>
<circle cx="552.08" cy="355.56" r="1.15" fill="#fff" stroke="#40f040" stroke-width="0.65"/>
<circle cx="554.43" cy="355.69" r="1.15" fill="#fff" stroke="#40f040" stroke-width="0.65"/>
<circle cx="545.72" cy="357.67" r="1.15" fill="#fff" stroke="#40f040" stroke-width="0.65"/>
<circle cx="548.02" cy="357.98" r="1.15" fill="#fff" stroke="#40f040" stroke-width="0.65"/>
<circle cx="550.87" cy="358.22" r="1.15" fill="#fff" stroke="#40f040" stroke-width="0.65"/>
<circle cx="553.10" cy="358.25" r="1.15" fill="#fff" stroke="#40f040" stroke-width="0.65"/>
<circle cx="544.37" cy="360.18" r="1.15" fill="#fff" stroke="#40f040" stroke-width="0.65"/>
<circle cx="546.90" cy="360.33" r="1.15" fill="#fff" stroke="#40f040" stroke-width="0.65"/>
<circle cx="551.78" cy="360.02" r="1.15" fill="#fff" stroke="#40f040" stroke-width="0.65"/>
<circle cx="554.55" cy="359.84" r="1.15" fill="#fff" stroke="#40f040" stroke-width="0.65"/>
<circle cx="543.44" cy="362.17" r="1.15" fill="#fff" stroke="#40f040" stroke-width="0.65"/>
<circle cx="545.87" cy="362.07" r="1.15" fill="#fff" stroke="#40f040" stroke-width="0.65"/>
<circle cx="547.94" cy="361.89" r="1.15" fill="#fff" stroke="#40f040" stroke-width="0.65"/>
<circle cx="550.83" cy="361.63" r="1.15" fill="#fff" stroke="#40f040" stroke-width="0.65"/>
<circle cx="553.38" cy="361.47" r="1.15" fill="#fff" stroke="#40f040" stroke-width="0.65"/>
<circle cx="555.49" cy="361.83" r="1.15" fill="#fff" stroke="#40f040" stroke-width="0.65"/>
<circle cx="542.24" cy="364.20" r="1.15" fill="#fff" stroke="#40f040" stroke-width="0.65"/>
<circle cx="544.41" cy="364.03" r="1.15" fill="#fff" stroke="#40f040" stroke-width="0.65"/>
<circle cx="547.07" cy="364.38" r="1.15" fill="#fff" stroke="#40f040" stroke-width="0.65"/>
<circle cx="551.75" cy="364.38" r="1.15" fill="#fff" stroke="#40f040" stroke-width="0.65"/>
<circle cx="554.73" cy="363.70" r="1.15" fill="#fff" stroke="#40f040" stroke-width="0.65"/>
<circle cx="556.73" cy="363.71" r="1.15" fill="#fff" stroke="#40f040" stroke-width="0.65"/>
<circle cx="543.38" cy="366.36" r="1.15" fill="#fff" stroke="#40f040" stroke-width="0.65"/>
<circle cx="545.48" cy="366.09" r="1.15" fill="#fff" stroke="#40f040" stroke-width="0.65"/>
<circle cx="548.04" cy="366.20" r="1.15" fill="#fff" stroke="#40f040" stroke-width="0.65"/>
<circle cx="550.95" cy="365.87" r="1.15" fill="#fff" stroke="#40f040" stroke-width="0.65"/>
<circle cx="553.24" cy="365.91" r="1.15" fill="#fff" stroke="#40f040" stroke-width="0.65"/>
<circle cx="555.48" cy="366.51" r="1.15" fill="#fff" stroke="#40f040" stroke-width="0.65"/>
<circle cx="541.69" cy="368.38" r="1.15" fill="#fff" stroke="#40f040" stroke-width="0.65"/>
<circle cx="544.68" cy="368.58" r="1.15" fill="#fff" stroke="#40f040" stroke-width="0.65"/>
<circle cx="547.20" cy="368.00" r="1.15" fill="#fff" stroke="#40f040" stroke-width="0.65"/>
<circle cx="549.18" cy="368.66" r="1.15" fill="#fff" stroke="#40f040" stroke-width="0.65"/>
<circle cx="552.13" cy="368.65" r="1.15" fill="#fff" stroke="#40f040" stroke-width="0.65"/>
<circle cx="554.22" cy="368.32" r="1.15" fill="#fff" stroke="#40f040" stroke-width="0.65"/>
<circle cx="557.08" cy="368.80" r="1.15" fill="#fff" stroke="#40f040" stroke-width="0.65"/>
<circle cx="543.29" cy="370.73" r="1.15" fill="#fff" stroke="#40f040" stroke-width="0.65"/>
<circle cx="545.62" cy="370.48" r="1.15" fill="#fff" stroke="#40f040" stroke-width="0.65"/>
<circle cx="548.15" cy="370.49" r="1.15" fill="#fff" stroke="#40f040" stroke-width="0.65"/>
<circle cx="550.52" cy="370.25" r="1.15" fill="#fff" stroke="#40f040" stroke-width="0.65"/>
<circle cx="552.91" cy="370.74" r="1.15" fill="#fff" stroke="#40f040" stroke-width="0.65"/>
<circle cx="555.77" cy="370.65" r="1.15" fill="#fff" stroke="#40f040" stroke-width="0.65"/>
<circle cx="545.64" cy="373.56" r="1.15" fill="#fff" stroke="#40f040" stroke-width="0.65"/>
<circle cx="547.91" cy="373.53" r="1.15" fill="#fff" stroke="#40f040" stroke-width="0.65"/>
<circle cx="550.67" cy="373.46" r="1.15" fill="#fff" stroke="#40f040" stroke-width="0.65"/>
<circle cx="553.19" cy="373.52" r="1.15" fill="#fff" stroke="#40f040" stroke-width="0.65"/>
<circle cx="546.43" cy="375.46" r="1.15" fill="#fff" stroke="#40f040" stroke-width="0.65"/>
<circle cx="549.21" cy="375.57" r="1.15" fill="#fff" stroke="#40f040" stroke-width="0.65"/>
<circle cx="551.90" cy="375.30" r="1.15" fill="#fff" stroke="#40f040" stroke-width="0.65"/>
<circle cx="554.16" cy="375.22" r="1.15" fill="#fff" stroke="#40f040" stroke-width="0.65"/>
<circle cx="545.23" cy="377.53" r="1.15" fill="#fff" stroke="#40f040" stroke-width="0.65"/>
<circle cx="547.67" cy="377.35" r="1.15" fill="#fff" stroke="#40f040" stroke-width="0.65"/>
<circle cx="550.74" cy="377.64" r="1.15" fill="#fff" stroke="#40f040" stroke-width="0.65"/>
<circle cx="553.01" cy="377.38" r="1.15" fill="#fff" stroke="#40f040" stroke-width="0.65"/>
<circle cx="546.80" cy="380.26" r="1.15" fill="#fff" stroke="#40f040" stroke-width="0.65"/>
<circle cx="549.23" cy="379.83" r="1.15" fill="#fff" stroke="#40f040" stroke-width="0.65"/>
<circle cx="554.19" cy="380.09" r="1.15" fill="#fff" stroke="#40f040" stroke-width="0.65"/>
<circle cx="549.50" cy="308.20" r="1.15" fill="#fff" stroke="#40f040" stroke-width="0.65"/>
<circle cx="550.90" cy="311.90" r="1.15" fill="#fff" stroke="#40f040" stroke-width="0.65"/>
<circle cx="548.10" cy="313.30" r="1.15" fill="#fff" stroke="#40f040" stroke-width="0.65"/>
<circle cx="547.20" cy="319.30" r="1.15" fill="#fff" stroke="#40f040" stroke-width="0.65"/>
<circle cx="551.80" cy="318.80" r="1.15" fill="#fff" stroke="#40f040" stroke-width="0.65"/>
<circle cx="551.80" cy="320.20" r="1.15" fill="#fff" stroke="#40f040" stroke-width="0.65"/>
<circle cx="550.00" cy="322.50" r="1.15" fill="#fff" stroke="#40f040" stroke-width="0.65"/>
<circle cx="544.90" cy="324.80" r="1.15" fill="#fff" stroke="#40f040" stroke-width="0.65"/>
<circle cx="546.80" cy="326.20" r="1.15" fill="#fff" stroke="#40f040" stroke-width="0.65"/>
<circle cx="549.10" cy="326.70" r="1.15" fill="#fff" stroke="#40f040" stroke-width="0.65"/>
<circle cx="551.80" cy="326.70" r="1.15" fill="#fff" stroke="#40f040" stroke-width="0.65"/>
<line x1="522.40" y1="337.83" x2="522.40" y2="342.64" stroke="#555" stroke-width="0.6"/>
<line x1="517.90" y1="337.83" x2="526.90" y2="337.83" stroke="#555" stroke-width="0.6"/>
<line x1="517.90" y1="342.64" x2="526.90" y2="342.64" stroke="#555" stroke-width="0.6"/>
<line x1="549.85" y1="351.43" x2="549.85" y2="355.04" stroke="#555" stroke-width="0.6"/>
<line x1="545.35" y1="351.43" x2="554.35" y2="351.43" stroke="#555" stroke-width="0.6"/>
<line x1="545.35" y1="355.04" x2="554.35" y2="355.04" stroke="#555" stroke-width="0.6"/>
<line x1="503.40" y1="293.88" x2="503.40" y2="390.88" stroke="#383838" stroke-width="1.35"/>
<line x1="499.40" y1="390.20" x2="568.70" y2="390.20" stroke="#383838" stroke-width="1.35"/>
<line x1="499.40" y1="390.20" x2="503.40" y2="390.20" stroke="#383838" stroke-width="1.35"/>
<text font-size="7.92" text-anchor="end" fill="#000" transform="translate(498.00 392.90) scale(0.960 1)">0</text>
<line x1="499.40" y1="366.12" x2="503.40" y2="366.12" stroke="#383838" stroke-width="1.35"/>
<text font-size="7.92" text-anchor="end" fill="#000" transform="translate(498.00 368.82) scale(0.960 1)">2</text>
<line x1="499.40" y1="342.04" x2="503.40" y2="342.04" stroke="#383838" stroke-width="1.35"/>
<text font-size="7.92" text-anchor="end" fill="#000" transform="translate(498.00 344.74) scale(0.960 1)">4</text>
<line x1="499.40" y1="317.96" x2="503.40" y2="317.96" stroke="#383838" stroke-width="1.35"/>
<text font-size="7.92" text-anchor="end" fill="#000" transform="translate(498.00 320.66) scale(0.960 1)">6</text>
<line x1="499.40" y1="293.88" x2="503.40" y2="293.88" stroke="#383838" stroke-width="1.35"/>
<text font-size="7.92" text-anchor="end" fill="#000" transform="translate(498.00 296.58) scale(0.960 1)">8</text>
<line x1="522.30" y1="390.20" x2="522.30" y2="394.00" stroke="#383838" stroke-width="1.35"/>
<text font-size="8.23" text-anchor="middle" fill="#000" transform="translate(522.30 403.00) scale(0.960 1)">Control</text>
<line x1="549.70" y1="390.20" x2="549.70" y2="394.00" stroke="#383838" stroke-width="1.35"/>
<text font-size="8.23" text-anchor="middle" fill="#000" transform="translate(549.70 403.00) scale(0.960 1)">AD</text>
<text font-size="8.12" text-anchor="start" font-style="italic" fill="#000" transform="translate(516.80 287.40) scale(0.960 1)">PPARG</text>
<text font-size="6.88" text-anchor="start" fill="#000" transform="translate(516.30 296.10) scale(0.960 1)"><tspan font-style="italic">p</tspan> &lt; 0.001</text>
<text font-size="8.33" text-anchor="middle" fill="#000" transform="translate(489.00 342.00) rotate(-90) scale(0.960 1)">Normalized expression</text>
<rect x="629.00" y="328.50" width="18.00" height="62.40" fill="none" stroke="#383838" stroke-width="1.35"/>
<rect x="656.50" y="334.93" width="17.90" height="55.97" fill="none" stroke="#383838" stroke-width="1.35"/>
<circle cx="635.59" cy="314.37" r="1.15" fill="#fff" stroke="#ff4040" stroke-width="0.65"/>
<circle cx="638.27" cy="313.98" r="1.15" fill="#fff" stroke="#ff4040" stroke-width="0.65"/>
<circle cx="636.84" cy="317.09" r="1.15" fill="#fff" stroke="#ff4040" stroke-width="0.65"/>
<circle cx="638.85" cy="317.41" r="1.15" fill="#fff" stroke="#ff4040" stroke-width="0.65"/>
<circle cx="637.73" cy="319.69" r="1.15" fill="#fff" stroke="#ff4040" stroke-width="0.65"/>
<circle cx="636.14" cy="322.41" r="1.15" fill="#fff" stroke="#ff4040" stroke-width="0.65"/>
<circle cx="638.66" cy="322.32" r="1.15" fill="#fff" stroke="#ff4040" stroke-width="0.65"/>
<circle cx="630.31" cy="324.91" r="1.15" fill="#fff" stroke="#ff4040" stroke-width="0.65"/>
<circle cx="635.63" cy="325.08" r="1.15" fill="#fff" stroke="#ff4040" stroke-width="0.65"/>
<circle cx="637.71" cy="324.84" r="1.15" fill="#fff" stroke="#ff4040" stroke-width="0.65"/>
<circle cx="640.32" cy="325.17" r="1.15" fill="#fff" stroke="#ff4040" stroke-width="0.65"/>
<circle cx="642.86" cy="325.23" r="1.15" fill="#fff" stroke="#ff4040" stroke-width="0.65"/>
<circle cx="631.70" cy="327.23" r="1.15" fill="#fff" stroke="#ff4040" stroke-width="0.65"/>
<circle cx="634.16" cy="327.28" r="1.15" fill="#fff" stroke="#ff4040" stroke-width="0.65"/>
<circle cx="636.48" cy="326.95" r="1.15" fill="#fff" stroke="#ff4040" stroke-width="0.65"/>
<circle cx="639.38" cy="327.61" r="1.15" fill="#fff" stroke="#ff4040" stroke-width="0.65"/>
<circle cx="641.46" cy="327.57" r="1.15" fill="#fff" stroke="#ff4040" stroke-width="0.65"/>
<circle cx="644.12" cy="327.14" r="1.15" fill="#fff" stroke="#ff4040" stroke-width="0.65"/>
<circle cx="630.65" cy="329.90" r="1.15" fill="#fff" stroke="#ff4040" stroke-width="0.65"/>
<circle cx="632.82" cy="329.68" r="1.15" fill="#fff" stroke="#ff4040" stroke-width="0.65"/>
<circle cx="635.38" cy="329.20" r="1.15" fill="#fff" stroke="#ff4040" stroke-width="0.65"/>
<circle cx="640.51" cy="329.60" r="1.15" fill="#fff" stroke="#ff4040" stroke-width="0.65"/>
<circle cx="642.83" cy="329.11" r="1.15" fill="#fff" stroke="#ff4040" stroke-width="0.65"/>
<circle cx="636.38" cy="332.75" r="1.15" fill="#fff" stroke="#ff4040" stroke-width="0.65"/>
<circle cx="638.37" cy="332.75" r="1.15" fill="#fff" stroke="#ff4040" stroke-width="0.65"/>
<circle cx="634.93" cy="334.95" r="1.15" fill="#fff" stroke="#ff4040" stroke-width="0.65"/>
<circle cx="639.92" cy="334.82" r="1.15" fill="#fff" stroke="#ff4040" stroke-width="0.65"/>
<circle cx="637.71" cy="337.45" r="1.15" fill="#fff" stroke="#ff4040" stroke-width="0.65"/>
<circle cx="636.12" cy="339.53" r="1.15" fill="#fff" stroke="#ff4040" stroke-width="0.65"/>
<circle cx="638.73" cy="340.13" r="1.15" fill="#fff" stroke="#ff4040" stroke-width="0.65"/>
<circle cx="637.39" cy="342.39" r="1.15" fill="#fff" stroke="#ff4040" stroke-width="0.65"/>
<circle cx="663.96" cy="323.25" r="1.15" fill="#fff" stroke="#40f040" stroke-width="0.65"/>
<circle cx="666.41" cy="322.81" r="1.15" fill="#fff" stroke="#40f040" stroke-width="0.65"/>
<circle cx="662.15" cy="326.58" r="1.15" fill="#fff" stroke="#40f040" stroke-width="0.65"/>
<circle cx="665.06" cy="325.92" r="1.15" fill="#fff" stroke="#40f040" stroke-width="0.65"/>
<circle cx="667.17" cy="326.28" r="1.15" fill="#fff" stroke="#40f040" stroke-width="0.65"/>
<circle cx="669.99" cy="326.05" r="1.15" fill="#fff" stroke="#40f040" stroke-width="0.65"/>
<circle cx="660.77" cy="328.61" r="1.15" fill="#fff" stroke="#40f040" stroke-width="0.65"/>
<circle cx="663.51" cy="328.78" r="1.15" fill="#fff" stroke="#40f040" stroke-width="0.65"/>
<circle cx="665.96" cy="328.83" r="1.15" fill="#fff" stroke="#40f040" stroke-width="0.65"/>
<circle cx="659.14" cy="330.45" r="1.15" fill="#fff" stroke="#40f040" stroke-width="0.65"/>
<circle cx="662.02" cy="329.96" r="1.15" fill="#fff" stroke="#40f040" stroke-width="0.65"/>
<circle cx="664.15" cy="330.25" r="1.15" fill="#fff" stroke="#40f040" stroke-width="0.65"/>
<circle cx="666.81" cy="329.79" r="1.15" fill="#fff" stroke="#40f040" stroke-width="0.65"/>
<circle cx="669.54" cy="330.33" r="1.15" fill="#fff" stroke="#40f040" stroke-width="0.65"/>
<circle cx="671.69" cy="330.32" r="1.15" fill="#fff" stroke="#40f040" stroke-width="0.65"/>
<circle cx="658.35" cy="332.62" r="1.15" fill="#fff" stroke="#40f040" stroke-width="0.65"/>
<circle cx="660.66" cy="332.20" r="1.15" fill="#fff" stroke="#40f040" stroke-width="0.65"/>
<circle cx="663.21" cy="332.27" r="1.15" fill="#fff" stroke="#40f040" stroke-width="0.65"/>
<circle cx="665.33" cy="332.59" r="1.15" fill="#fff" stroke="#40f040" stroke-width="0.65"/>
<circle cx="668.28" cy="332.46" r="1.15" fill="#fff" stroke="#40f040" stroke-width="0.65"/>
<circle cx="670.56" cy="331.98" r="1.15" fill="#fff" stroke="#40f040" stroke-width="0.65"/>
<circle cx="659.34" cy="334.24" r="1.15" fill="#fff" stroke="#40f040" stroke-width="0.65"/>
<circle cx="661.89" cy="334.58" r="1.15" fill="#fff" stroke="#40f040" stroke-width="0.65"/>
<circle cx="664.26" cy="334.54" r="1.15" fill="#fff" stroke="#40f040" stroke-width="0.65"/>
<circle cx="666.95" cy="334.60" r="1.15" fill="#fff" stroke="#40f040" stroke-width="0.65"/>
<circle cx="669.08" cy="334.20" r="1.15" fill="#fff" stroke="#40f040" stroke-width="0.65"/>
<circle cx="671.87" cy="334.61" r="1.15" fill="#fff" stroke="#40f040" stroke-width="0.65"/>
<circle cx="657.91" cy="336.78" r="1.15" fill="#fff" stroke="#40f040" stroke-width="0.65"/>
<circle cx="660.75" cy="336.39" r="1.15" fill="#fff" stroke="#40f040" stroke-width="0.65"/>
<circle cx="662.84" cy="336.87" r="1.15" fill="#fff" stroke="#40f040" stroke-width="0.65"/>
<circle cx="665.82" cy="337.02" r="1.15" fill="#fff" stroke="#40f040" stroke-width="0.65"/>
<circle cx="668.15" cy="337.03" r="1.15" fill="#fff" stroke="#40f040" stroke-width="0.65"/>
<circle cx="670.52" cy="336.90" r="1.15" fill="#fff" stroke="#40f040" stroke-width="0.65"/>
<circle cx="659.48" cy="338.83" r="1.15" fill="#fff" stroke="#40f040" stroke-width="0.65"/>
<circle cx="661.52" cy="338.97" r="1.15" fill="#fff" stroke="#40f040" stroke-width="0.65"/>
<circle cx="664.46" cy="339.28" r="1.15" fill="#fff" stroke="#40f040" stroke-width="0.65"/>
<circle cx="667.00" cy="338.69" r="1.15" fill="#fff" stroke="#40f040" stroke-width="0.65"/>
<circle cx="669.48" cy="338.83" r="1.15" fill="#fff" stroke="#40f040" stroke-width="0.65"/>
<circle cx="671.90" cy="339.22" r="1.15" fill="#fff" stroke="#40f040" stroke-width="0.65"/>
<circle cx="662.12" cy="340.18" r="1.15" fill="#fff" stroke="#40f040" stroke-width="0.65"/>
<circle cx="664.29" cy="339.94" r="1.15" fill="#fff" stroke="#40f040" stroke-width="0.65"/>
<circle cx="666.93" cy="340.33" r="1.15" fill="#fff" stroke="#40f040" stroke-width="0.65"/>
<circle cx="663.51" cy="342.78" r="1.15" fill="#fff" stroke="#40f040" stroke-width="0.65"/>
<circle cx="665.88" cy="342.80" r="1.15" fill="#fff" stroke="#40f040" stroke-width="0.65"/>
<circle cx="668.36" cy="342.89" r="1.15" fill="#fff" stroke="#40f040" stroke-width="0.65"/>
<circle cx="664.30" cy="348.00" r="1.15" fill="#fff" stroke="#40f040" stroke-width="0.65"/>
<circle cx="666.20" cy="348.00" r="1.15" fill="#fff" stroke="#40f040" stroke-width="0.65"/>
<circle cx="665.30" cy="351.80" r="1.15" fill="#fff" stroke="#40f040" stroke-width="0.65"/>
<line x1="638.00" y1="327.86" x2="638.00" y2="329.14" stroke="#555" stroke-width="0.6"/>
<line x1="633.50" y1="327.86" x2="642.50" y2="327.86" stroke="#555" stroke-width="0.6"/>
<line x1="633.50" y1="329.14" x2="642.50" y2="329.14" stroke="#555" stroke-width="0.6"/>
<line x1="665.45" y1="334.29" x2="665.45" y2="335.58" stroke="#555" stroke-width="0.6"/>
<line x1="660.95" y1="334.29" x2="669.95" y2="334.29" stroke="#555" stroke-width="0.6"/>
<line x1="660.95" y1="335.58" x2="669.95" y2="335.58" stroke="#555" stroke-width="0.6"/>
<line x1="619.40" y1="294.40" x2="619.40" y2="391.57" stroke="#383838" stroke-width="1.35"/>
<line x1="615.40" y1="390.90" x2="685.00" y2="390.90" stroke="#383838" stroke-width="1.35"/>
<line x1="615.40" y1="390.90" x2="619.40" y2="390.90" stroke="#383838" stroke-width="1.35"/>
<text font-size="7.92" text-anchor="end" fill="#000" transform="translate(614.00 393.60) scale(0.960 1)">0</text>
<line x1="615.40" y1="358.73" x2="619.40" y2="358.73" stroke="#383838" stroke-width="1.35"/>
<text font-size="7.92" text-anchor="end" fill="#000" transform="translate(614.00 361.43) scale(0.960 1)">5</text>
<line x1="615.40" y1="326.57" x2="619.40" y2="326.57" stroke="#383838" stroke-width="1.35"/>
<text font-size="7.92" text-anchor="end" fill="#000" transform="translate(614.00 329.27) scale(0.960 1)">10</text>
<line x1="615.40" y1="294.40" x2="619.40" y2="294.40" stroke="#383838" stroke-width="1.35"/>
<text font-size="7.92" text-anchor="end" fill="#000" transform="translate(614.00 297.10) scale(0.960 1)">15</text>
<line x1="637.40" y1="390.90" x2="637.40" y2="394.70" stroke="#383838" stroke-width="1.35"/>
<text font-size="8.23" text-anchor="middle" fill="#000" transform="translate(637.40 403.30) scale(0.960 1)">Control</text>
<line x1="665.10" y1="390.90" x2="665.10" y2="394.70" stroke="#383838" stroke-width="1.35"/>
<text font-size="8.23" text-anchor="middle" fill="#000" transform="translate(665.10 403.30) scale(0.960 1)">AD</text>
<text font-size="8.12" text-anchor="start" font-style="italic" fill="#000" transform="translate(630.20 287.90) scale(0.960 1)">MAPK1</text>
<text font-size="6.88" text-anchor="start" fill="#000" transform="translate(630.20 296.80) scale(0.960 1)"><tspan font-style="italic">p</tspan> &lt; 0.001</text>
<text font-size="8.33" text-anchor="middle" fill="#000" transform="translate(601.00 342.00) rotate(-90) scale(0.960 1)">Normalized expression</text>
<text font-size="18.60" text-anchor="start" font-weight="bold" fill="#000" transform="translate(0.10 10.90) scale(1.000 1)">a</text>
<text font-size="18.60" text-anchor="start" font-weight="bold" fill="#000" transform="translate(183.30 14.90) scale(1.000 1)">b</text>
<text font-size="18.60" text-anchor="start" font-weight="bold" fill="#000" transform="translate(358.80 11.10) scale(1.000 1)">c</text>
<text font-size="18.60" text-anchor="start" font-weight="bold" fill="#000" transform="translate(544.60 14.90) scale(1.000 1)">d</text>
<text font-size="18.60" text-anchor="start" font-weight="bold" fill="#000" transform="translate(1.00 149.40) scale(1.000 1)">e</text>
<text font-size="18.60" text-anchor="start" font-weight="bold" fill="#000" transform="translate(183.70 150.80) scale(1.000 1)">f</text>
<text font-size="18.60" text-anchor="start" font-weight="bold" fill="#000" transform="translate(365.20 149.30) scale(1.000 1)">g</text>
<text font-size="18.60" text-anchor="start" font-weight="bold" fill="#000" transform="translate(550.60 156.90) scale(1.000 1)">h</text>
<text font-size="18.60" text-anchor="start" font-weight="bold" fill="#000" transform="translate(6.90 288.00) scale(1.000 1)">i</text>
<text font-size="18.60" text-anchor="start" font-weight="bold" fill="#000" transform="translate(118.60 292.20) scale(1.000 1)">j</text>
<text font-size="18.60" text-anchor="start" font-weight="bold" fill="#000" transform="translate(235.70 296.00) scale(1.000 1)">k</text>
<text font-size="18.60" text-anchor="start" font-weight="bold" fill="#000" transform="translate(363.60 295.50) scale(1.000 1)">l</text>
<text font-size="18.60" text-anchor="start" font-weight="bold" fill="#000" transform="translate(474.40 291.80) scale(1.000 1)">m</text>
<text font-size="18.60" text-anchor="start" font-weight="bold" fill="#000" transform="translate(592.00 292.00) scale(1.000 1)">n</text>
<text font-size="20.42" text-anchor="start" font-weight="bold" fill="#000" transform="translate(635.00 429.10) scale(0.960 1)">Fig.6</text>
</svg></body></html>
